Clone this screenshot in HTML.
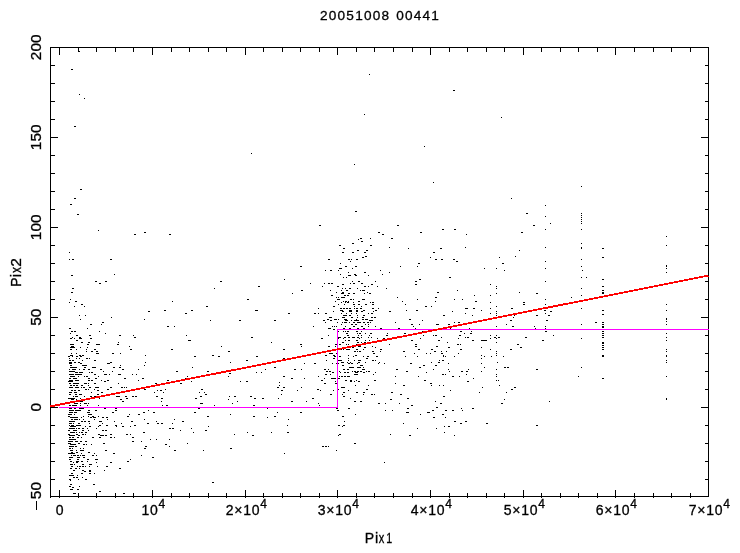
<!DOCTYPE html>
<html><head><meta charset="utf-8"><title>plot</title>
<style>
html,body{margin:0;padding:0;background:#fff;}
svg{display:block}
.tv{font-size:14.4px !important;letter-spacing:0px !important}
.t{font-family:"Liberation Sans",sans-serif;font-size:14px;letter-spacing:0.75px;fill:#000;stroke:#000;stroke-width:0.3px}
</style></head><body>
<svg width="740" height="553" viewBox="0 0 740 553" style="will-change:transform">
<rect width="740" height="553" fill="#fff"/>
<g shape-rendering="crispEdges">
<rect x="50" y="47" width="659" height="1" fill="#000"/>
<rect x="50" y="496" width="659" height="1" fill="#000"/>
<rect x="50" y="47" width="1" height="451" fill="#000"/>
<rect x="708" y="47" width="1" height="450" fill="#000"/>
<rect x="59" y="47" width="1" height="8" fill="#000"/>
<rect x="59" y="490" width="1" height="8" fill="#000"/>
<rect x="78" y="47" width="1" height="5" fill="#000"/>
<rect x="78" y="493" width="1" height="5" fill="#000"/>
<rect x="96" y="47" width="1" height="5" fill="#000"/>
<rect x="96" y="493" width="1" height="5" fill="#000"/>
<rect x="115" y="47" width="1" height="5" fill="#000"/>
<rect x="115" y="493" width="1" height="5" fill="#000"/>
<rect x="133" y="47" width="1" height="5" fill="#000"/>
<rect x="133" y="493" width="1" height="5" fill="#000"/>
<rect x="152" y="47" width="1" height="8" fill="#000"/>
<rect x="152" y="490" width="1" height="8" fill="#000"/>
<rect x="171" y="47" width="1" height="5" fill="#000"/>
<rect x="171" y="493" width="1" height="5" fill="#000"/>
<rect x="189" y="47" width="1" height="5" fill="#000"/>
<rect x="189" y="493" width="1" height="5" fill="#000"/>
<rect x="208" y="47" width="1" height="5" fill="#000"/>
<rect x="208" y="493" width="1" height="5" fill="#000"/>
<rect x="226" y="47" width="1" height="5" fill="#000"/>
<rect x="226" y="493" width="1" height="5" fill="#000"/>
<rect x="245" y="47" width="1" height="8" fill="#000"/>
<rect x="245" y="490" width="1" height="8" fill="#000"/>
<rect x="263" y="47" width="1" height="5" fill="#000"/>
<rect x="263" y="493" width="1" height="5" fill="#000"/>
<rect x="282" y="47" width="1" height="5" fill="#000"/>
<rect x="282" y="493" width="1" height="5" fill="#000"/>
<rect x="300" y="47" width="1" height="5" fill="#000"/>
<rect x="300" y="493" width="1" height="5" fill="#000"/>
<rect x="319" y="47" width="1" height="5" fill="#000"/>
<rect x="319" y="493" width="1" height="5" fill="#000"/>
<rect x="337" y="47" width="1" height="8" fill="#000"/>
<rect x="337" y="490" width="1" height="8" fill="#000"/>
<rect x="356" y="47" width="1" height="5" fill="#000"/>
<rect x="356" y="493" width="1" height="5" fill="#000"/>
<rect x="374" y="47" width="1" height="5" fill="#000"/>
<rect x="374" y="493" width="1" height="5" fill="#000"/>
<rect x="393" y="47" width="1" height="5" fill="#000"/>
<rect x="393" y="493" width="1" height="5" fill="#000"/>
<rect x="412" y="47" width="1" height="5" fill="#000"/>
<rect x="412" y="493" width="1" height="5" fill="#000"/>
<rect x="430" y="47" width="1" height="8" fill="#000"/>
<rect x="430" y="490" width="1" height="8" fill="#000"/>
<rect x="449" y="47" width="1" height="5" fill="#000"/>
<rect x="449" y="493" width="1" height="5" fill="#000"/>
<rect x="467" y="47" width="1" height="5" fill="#000"/>
<rect x="467" y="493" width="1" height="5" fill="#000"/>
<rect x="486" y="47" width="1" height="5" fill="#000"/>
<rect x="486" y="493" width="1" height="5" fill="#000"/>
<rect x="504" y="47" width="1" height="5" fill="#000"/>
<rect x="504" y="493" width="1" height="5" fill="#000"/>
<rect x="523" y="47" width="1" height="8" fill="#000"/>
<rect x="523" y="490" width="1" height="8" fill="#000"/>
<rect x="541" y="47" width="1" height="5" fill="#000"/>
<rect x="541" y="493" width="1" height="5" fill="#000"/>
<rect x="560" y="47" width="1" height="5" fill="#000"/>
<rect x="560" y="493" width="1" height="5" fill="#000"/>
<rect x="578" y="47" width="1" height="5" fill="#000"/>
<rect x="578" y="493" width="1" height="5" fill="#000"/>
<rect x="597" y="47" width="1" height="5" fill="#000"/>
<rect x="597" y="493" width="1" height="5" fill="#000"/>
<rect x="615" y="47" width="1" height="8" fill="#000"/>
<rect x="615" y="490" width="1" height="8" fill="#000"/>
<rect x="634" y="47" width="1" height="5" fill="#000"/>
<rect x="634" y="493" width="1" height="5" fill="#000"/>
<rect x="653" y="47" width="1" height="5" fill="#000"/>
<rect x="653" y="493" width="1" height="5" fill="#000"/>
<rect x="671" y="47" width="1" height="5" fill="#000"/>
<rect x="671" y="493" width="1" height="5" fill="#000"/>
<rect x="690" y="47" width="1" height="5" fill="#000"/>
<rect x="690" y="493" width="1" height="5" fill="#000"/>
<rect x="50" y="479" width="5" height="1" fill="#000"/>
<rect x="705" y="479" width="4" height="1" fill="#000"/>
<rect x="50" y="461" width="5" height="1" fill="#000"/>
<rect x="705" y="461" width="4" height="1" fill="#000"/>
<rect x="50" y="443" width="5" height="1" fill="#000"/>
<rect x="705" y="443" width="4" height="1" fill="#000"/>
<rect x="50" y="425" width="5" height="1" fill="#000"/>
<rect x="705" y="425" width="4" height="1" fill="#000"/>
<rect x="50" y="407" width="8" height="1" fill="#000"/>
<rect x="701" y="407" width="8" height="1" fill="#000"/>
<rect x="50" y="389" width="5" height="1" fill="#000"/>
<rect x="705" y="389" width="4" height="1" fill="#000"/>
<rect x="50" y="371" width="5" height="1" fill="#000"/>
<rect x="705" y="371" width="4" height="1" fill="#000"/>
<rect x="50" y="353" width="5" height="1" fill="#000"/>
<rect x="705" y="353" width="4" height="1" fill="#000"/>
<rect x="50" y="335" width="5" height="1" fill="#000"/>
<rect x="705" y="335" width="4" height="1" fill="#000"/>
<rect x="50" y="317" width="8" height="1" fill="#000"/>
<rect x="701" y="317" width="8" height="1" fill="#000"/>
<rect x="50" y="299" width="5" height="1" fill="#000"/>
<rect x="705" y="299" width="4" height="1" fill="#000"/>
<rect x="50" y="281" width="5" height="1" fill="#000"/>
<rect x="705" y="281" width="4" height="1" fill="#000"/>
<rect x="50" y="263" width="5" height="1" fill="#000"/>
<rect x="705" y="263" width="4" height="1" fill="#000"/>
<rect x="50" y="245" width="5" height="1" fill="#000"/>
<rect x="705" y="245" width="4" height="1" fill="#000"/>
<rect x="50" y="227" width="8" height="1" fill="#000"/>
<rect x="701" y="227" width="8" height="1" fill="#000"/>
<rect x="50" y="209" width="5" height="1" fill="#000"/>
<rect x="705" y="209" width="4" height="1" fill="#000"/>
<rect x="50" y="191" width="5" height="1" fill="#000"/>
<rect x="705" y="191" width="4" height="1" fill="#000"/>
<rect x="50" y="173" width="5" height="1" fill="#000"/>
<rect x="705" y="173" width="4" height="1" fill="#000"/>
<rect x="50" y="155" width="5" height="1" fill="#000"/>
<rect x="705" y="155" width="4" height="1" fill="#000"/>
<rect x="50" y="137" width="8" height="1" fill="#000"/>
<rect x="701" y="137" width="8" height="1" fill="#000"/>
<rect x="50" y="119" width="5" height="1" fill="#000"/>
<rect x="705" y="119" width="4" height="1" fill="#000"/>
<rect x="50" y="101" width="5" height="1" fill="#000"/>
<rect x="705" y="101" width="4" height="1" fill="#000"/>
<rect x="50" y="83" width="5" height="1" fill="#000"/>
<rect x="705" y="83" width="4" height="1" fill="#000"/>
<rect x="50" y="65" width="5" height="1" fill="#000"/>
<rect x="705" y="65" width="4" height="1" fill="#000"/>
<rect x="602" y="279" width="2" height="1" fill="#000"/>
<rect x="602" y="286" width="2" height="1" fill="#000"/>
<rect x="602" y="290" width="2" height="1" fill="#000"/>
<rect x="602" y="292" width="2" height="1" fill="#000"/>
<rect x="602" y="293" width="2" height="1" fill="#000"/>
<rect x="602" y="310" width="2" height="1" fill="#000"/>
<rect x="602" y="314" width="2" height="1" fill="#000"/>
<rect x="602" y="322" width="2" height="1" fill="#000"/>
<rect x="602" y="324" width="2" height="1" fill="#000"/>
<rect x="602" y="326" width="2" height="1" fill="#000"/>
<rect x="602" y="327" width="2" height="1" fill="#000"/>
<rect x="602" y="331" width="2" height="1" fill="#000"/>
<rect x="602" y="333" width="2" height="1" fill="#000"/>
<rect x="602" y="335" width="2" height="1" fill="#000"/>
<rect x="602" y="337" width="2" height="1" fill="#000"/>
<rect x="602" y="342" width="2" height="1" fill="#000"/>
<rect x="602" y="343" width="2" height="1" fill="#000"/>
<rect x="602" y="345" width="2" height="1" fill="#000"/>
<rect x="602" y="347" width="2" height="1" fill="#000"/>
<rect x="602" y="349" width="2" height="1" fill="#000"/>
<rect x="602" y="355" width="2" height="1" fill="#000"/>
<rect x="602" y="356" width="2" height="1" fill="#000"/>
<rect x="602" y="378" width="2" height="1" fill="#000"/>
<rect x="666" y="272" width="1" height="1" fill="#000"/>
<rect x="666" y="304" width="1" height="1" fill="#000"/>
<rect x="666" y="310" width="1" height="1" fill="#000"/>
<rect x="666" y="318" width="1" height="1" fill="#000"/>
<rect x="666" y="319" width="1" height="1" fill="#000"/>
<rect x="666" y="321" width="1" height="1" fill="#000"/>
<rect x="666" y="324" width="1" height="1" fill="#000"/>
<rect x="666" y="333" width="1" height="1" fill="#000"/>
<rect x="666" y="337" width="1" height="1" fill="#000"/>
<rect x="666" y="340" width="1" height="1" fill="#000"/>
<rect x="666" y="349" width="1" height="1" fill="#000"/>
<rect x="666" y="351" width="1" height="1" fill="#000"/>
<rect x="666" y="355" width="1" height="1" fill="#000"/>
<rect x="666" y="356" width="1" height="1" fill="#000"/>
<rect x="666" y="360" width="1" height="1" fill="#000"/>
<rect x="666" y="362" width="1" height="1" fill="#000"/>
<rect x="666" y="376" width="1" height="1" fill="#000"/>
<rect x="666" y="398" width="1" height="1" fill="#000"/>
<rect x="666" y="399" width="1" height="1" fill="#000"/>
<rect x="582" y="270" width="1" height="1" fill="#000"/>
<rect x="79" y="51" width="1" height="1" fill="#000"/>
<rect x="102" y="322" width="2" height="1" fill="#000"/>
<rect x="90" y="324" width="2" height="1" fill="#000"/>
<rect x="101" y="324" width="1" height="1" fill="#000"/>
<rect x="69" y="328" width="2" height="1" fill="#000"/>
<rect x="87" y="328" width="1" height="1" fill="#000"/>
<rect x="71" y="331" width="2" height="1" fill="#000"/>
<rect x="74" y="331" width="2" height="1" fill="#000"/>
<rect x="99" y="331" width="1" height="1" fill="#000"/>
<rect x="70" y="333" width="1" height="1" fill="#000"/>
<rect x="105" y="333" width="1" height="1" fill="#000"/>
<rect x="76" y="335" width="2" height="1" fill="#000"/>
<rect x="89" y="335" width="2" height="1" fill="#000"/>
<rect x="119" y="335" width="2" height="1" fill="#000"/>
<rect x="70" y="338" width="2" height="1" fill="#000"/>
<rect x="72" y="337" width="1" height="1" fill="#000"/>
<rect x="74" y="338" width="1" height="1" fill="#000"/>
<rect x="79" y="337" width="2" height="1" fill="#000"/>
<rect x="79" y="338" width="3" height="1" fill="#000"/>
<rect x="90" y="338" width="2" height="1" fill="#000"/>
<rect x="76" y="340" width="2" height="1" fill="#000"/>
<rect x="81" y="342" width="2" height="1" fill="#000"/>
<rect x="88" y="342" width="2" height="1" fill="#000"/>
<rect x="118" y="342" width="1" height="1" fill="#000"/>
<rect x="70" y="344" width="4" height="1" fill="#000"/>
<rect x="87" y="344" width="2" height="1" fill="#000"/>
<rect x="96" y="344" width="4" height="1" fill="#000"/>
<rect x="117" y="344" width="2" height="1" fill="#000"/>
<rect x="71" y="346" width="3" height="1" fill="#000"/>
<rect x="70" y="347" width="5" height="1" fill="#000"/>
<rect x="80" y="347" width="1" height="1" fill="#000"/>
<rect x="87" y="347" width="1" height="1" fill="#000"/>
<rect x="129" y="346" width="1" height="1" fill="#000"/>
<rect x="70" y="349" width="2" height="1" fill="#000"/>
<rect x="76" y="349" width="1" height="1" fill="#000"/>
<rect x="86" y="349" width="1" height="1" fill="#000"/>
<rect x="94" y="349" width="2" height="1" fill="#000"/>
<rect x="86" y="351" width="1" height="1" fill="#000"/>
<rect x="91" y="351" width="2" height="1" fill="#000"/>
<rect x="96" y="351" width="2" height="1" fill="#000"/>
<rect x="71" y="353" width="1" height="1" fill="#000"/>
<rect x="76" y="353" width="1" height="1" fill="#000"/>
<rect x="96" y="353" width="3" height="1" fill="#000"/>
<rect x="112" y="353" width="2" height="1" fill="#000"/>
<rect x="120" y="353" width="1" height="1" fill="#000"/>
<rect x="68" y="356" width="2" height="1" fill="#000"/>
<rect x="70" y="355" width="3" height="1" fill="#000"/>
<rect x="72" y="356" width="1" height="1" fill="#000"/>
<rect x="76" y="356" width="2" height="1" fill="#000"/>
<rect x="79" y="355" width="2" height="1" fill="#000"/>
<rect x="80" y="356" width="2" height="1" fill="#000"/>
<rect x="82" y="355" width="2" height="1" fill="#000"/>
<rect x="69" y="358" width="1" height="1" fill="#000"/>
<rect x="76" y="358" width="1" height="1" fill="#000"/>
<rect x="79" y="358" width="1" height="1" fill="#000"/>
<rect x="86" y="358" width="2" height="1" fill="#000"/>
<rect x="89" y="358" width="1" height="1" fill="#000"/>
<rect x="69" y="360" width="2" height="1" fill="#000"/>
<rect x="72" y="360" width="2" height="1" fill="#000"/>
<rect x="82" y="360" width="1" height="1" fill="#000"/>
<rect x="94" y="360" width="2" height="1" fill="#000"/>
<rect x="69" y="362" width="3" height="1" fill="#000"/>
<rect x="69" y="363" width="3" height="1" fill="#000"/>
<rect x="74" y="362" width="2" height="1" fill="#000"/>
<rect x="78" y="362" width="2" height="1" fill="#000"/>
<rect x="80" y="363" width="2" height="1" fill="#000"/>
<rect x="107" y="363" width="3" height="1" fill="#000"/>
<rect x="110" y="362" width="2" height="1" fill="#000"/>
<rect x="70" y="365" width="2" height="1" fill="#000"/>
<rect x="82" y="365" width="5" height="1" fill="#000"/>
<rect x="120" y="365" width="1" height="1" fill="#000"/>
<rect x="70" y="367" width="7" height="1" fill="#000"/>
<rect x="84" y="367" width="2" height="1" fill="#000"/>
<rect x="92" y="367" width="4" height="1" fill="#000"/>
<rect x="113" y="367" width="2" height="1" fill="#000"/>
<rect x="119" y="367" width="2" height="1" fill="#000"/>
<rect x="69" y="369" width="1" height="1" fill="#000"/>
<rect x="72" y="369" width="4" height="1" fill="#000"/>
<rect x="79" y="369" width="1" height="1" fill="#000"/>
<rect x="83" y="369" width="2" height="1" fill="#000"/>
<rect x="88" y="369" width="2" height="1" fill="#000"/>
<rect x="100" y="369" width="2" height="1" fill="#000"/>
<rect x="122" y="369" width="2" height="1" fill="#000"/>
<rect x="69" y="371" width="4" height="1" fill="#000"/>
<rect x="72" y="371" width="3" height="1" fill="#000"/>
<rect x="75" y="372" width="3" height="1" fill="#000"/>
<rect x="79" y="372" width="4" height="1" fill="#000"/>
<rect x="89" y="372" width="1" height="1" fill="#000"/>
<rect x="91" y="372" width="2" height="1" fill="#000"/>
<rect x="103" y="371" width="1" height="1" fill="#000"/>
<rect x="112" y="371" width="1" height="1" fill="#000"/>
<rect x="69" y="374" width="5" height="1" fill="#000"/>
<rect x="75" y="374" width="7" height="1" fill="#000"/>
<rect x="94" y="374" width="2" height="1" fill="#000"/>
<rect x="104" y="374" width="3" height="1" fill="#000"/>
<rect x="109" y="374" width="1" height="1" fill="#000"/>
<rect x="118" y="374" width="3" height="1" fill="#000"/>
<rect x="70" y="376" width="5" height="1" fill="#000"/>
<rect x="78" y="376" width="1" height="1" fill="#000"/>
<rect x="84" y="376" width="1" height="1" fill="#000"/>
<rect x="86" y="376" width="2" height="1" fill="#000"/>
<rect x="98" y="376" width="1" height="1" fill="#000"/>
<rect x="69" y="378" width="2" height="1" fill="#000"/>
<rect x="73" y="378" width="4" height="1" fill="#000"/>
<rect x="88" y="378" width="2" height="1" fill="#000"/>
<rect x="95" y="378" width="2" height="1" fill="#000"/>
<rect x="124" y="378" width="2" height="1" fill="#000"/>
<rect x="69" y="380" width="4" height="1" fill="#000"/>
<rect x="68" y="381" width="5" height="1" fill="#000"/>
<rect x="75" y="380" width="2" height="1" fill="#000"/>
<rect x="77" y="380" width="2" height="1" fill="#000"/>
<rect x="88" y="380" width="2" height="1" fill="#000"/>
<rect x="91" y="380" width="2" height="1" fill="#000"/>
<rect x="101" y="380" width="1" height="1" fill="#000"/>
<rect x="104" y="381" width="2" height="1" fill="#000"/>
<rect x="107" y="380" width="2" height="1" fill="#000"/>
<rect x="69" y="383" width="2" height="1" fill="#000"/>
<rect x="73" y="383" width="6" height="1" fill="#000"/>
<rect x="84" y="383" width="3" height="1" fill="#000"/>
<rect x="88" y="383" width="1" height="1" fill="#000"/>
<rect x="94" y="383" width="2" height="1" fill="#000"/>
<rect x="118" y="383" width="1" height="1" fill="#000"/>
<rect x="70" y="385" width="2" height="1" fill="#000"/>
<rect x="73" y="385" width="2" height="1" fill="#000"/>
<rect x="76" y="385" width="2" height="1" fill="#000"/>
<rect x="81" y="385" width="2" height="1" fill="#000"/>
<rect x="88" y="385" width="1" height="1" fill="#000"/>
<rect x="69" y="387" width="4" height="1" fill="#000"/>
<rect x="75" y="387" width="4" height="1" fill="#000"/>
<rect x="81" y="387" width="1" height="1" fill="#000"/>
<rect x="83" y="387" width="2" height="1" fill="#000"/>
<rect x="89" y="387" width="2" height="1" fill="#000"/>
<rect x="95" y="387" width="4" height="1" fill="#000"/>
<rect x="110" y="387" width="2" height="1" fill="#000"/>
<rect x="121" y="387" width="2" height="1" fill="#000"/>
<rect x="124" y="387" width="1" height="1" fill="#000"/>
<rect x="126" y="387" width="1" height="1" fill="#000"/>
<rect x="71" y="390" width="2" height="1" fill="#000"/>
<rect x="74" y="390" width="2" height="1" fill="#000"/>
<rect x="78" y="390" width="2" height="1" fill="#000"/>
<rect x="85" y="389" width="2" height="1" fill="#000"/>
<rect x="88" y="389" width="1" height="1" fill="#000"/>
<rect x="94" y="389" width="1" height="1" fill="#000"/>
<rect x="97" y="390" width="2" height="1" fill="#000"/>
<rect x="107" y="389" width="2" height="1" fill="#000"/>
<rect x="69" y="392" width="3" height="1" fill="#000"/>
<rect x="74" y="392" width="3" height="1" fill="#000"/>
<rect x="91" y="392" width="1" height="1" fill="#000"/>
<rect x="101" y="392" width="2" height="1" fill="#000"/>
<rect x="69" y="394" width="2" height="1" fill="#000"/>
<rect x="75" y="394" width="2" height="1" fill="#000"/>
<rect x="79" y="394" width="3" height="1" fill="#000"/>
<rect x="97" y="394" width="2" height="1" fill="#000"/>
<rect x="73" y="396" width="1" height="1" fill="#000"/>
<rect x="75" y="396" width="3" height="1" fill="#000"/>
<rect x="84" y="396" width="1" height="1" fill="#000"/>
<rect x="90" y="396" width="2" height="1" fill="#000"/>
<rect x="94" y="396" width="2" height="1" fill="#000"/>
<rect x="116" y="396" width="4" height="1" fill="#000"/>
<rect x="125" y="396" width="2" height="1" fill="#000"/>
<rect x="68" y="398" width="7" height="1" fill="#000"/>
<rect x="71" y="399" width="3" height="1" fill="#000"/>
<rect x="76" y="399" width="1" height="1" fill="#000"/>
<rect x="80" y="398" width="1" height="1" fill="#000"/>
<rect x="99" y="398" width="1" height="1" fill="#000"/>
<rect x="126" y="398" width="2" height="1" fill="#000"/>
<rect x="120" y="399" width="2" height="1" fill="#000"/>
<rect x="70" y="401" width="1" height="1" fill="#000"/>
<rect x="80" y="401" width="3" height="1" fill="#000"/>
<rect x="122" y="401" width="2" height="1" fill="#000"/>
<rect x="74" y="403" width="4" height="1" fill="#000"/>
<rect x="80" y="403" width="1" height="1" fill="#000"/>
<rect x="84" y="403" width="3" height="1" fill="#000"/>
<rect x="88" y="403" width="1" height="1" fill="#000"/>
<rect x="69" y="405" width="2" height="1" fill="#000"/>
<rect x="72" y="405" width="5" height="1" fill="#000"/>
<rect x="80" y="405" width="1" height="1" fill="#000"/>
<rect x="87" y="405" width="1" height="1" fill="#000"/>
<rect x="98" y="405" width="1" height="1" fill="#000"/>
<rect x="69" y="408" width="3" height="1" fill="#000"/>
<rect x="74" y="408" width="2" height="1" fill="#000"/>
<rect x="79" y="408" width="5" height="1" fill="#000"/>
<rect x="104" y="408" width="2" height="1" fill="#000"/>
<rect x="115" y="408" width="2" height="1" fill="#000"/>
<rect x="69" y="410" width="5" height="1" fill="#000"/>
<rect x="75" y="410" width="6" height="1" fill="#000"/>
<rect x="88" y="410" width="2" height="1" fill="#000"/>
<rect x="95" y="410" width="2" height="1" fill="#000"/>
<rect x="115" y="410" width="2" height="1" fill="#000"/>
<rect x="69" y="412" width="4" height="1" fill="#000"/>
<rect x="74" y="412" width="3" height="1" fill="#000"/>
<rect x="87" y="412" width="3" height="1" fill="#000"/>
<rect x="112" y="412" width="2" height="1" fill="#000"/>
<rect x="68" y="414" width="4" height="1" fill="#000"/>
<rect x="74" y="414" width="1" height="1" fill="#000"/>
<rect x="88" y="414" width="4" height="1" fill="#000"/>
<rect x="129" y="414" width="1" height="1" fill="#000"/>
<rect x="68" y="416" width="2" height="1" fill="#000"/>
<rect x="70" y="417" width="4" height="1" fill="#000"/>
<rect x="74" y="417" width="4" height="1" fill="#000"/>
<rect x="83" y="416" width="1" height="1" fill="#000"/>
<rect x="88" y="416" width="1" height="1" fill="#000"/>
<rect x="90" y="417" width="2" height="1" fill="#000"/>
<rect x="92" y="416" width="2" height="1" fill="#000"/>
<rect x="93" y="417" width="3" height="1" fill="#000"/>
<rect x="98" y="416" width="1" height="1" fill="#000"/>
<rect x="102" y="417" width="2" height="1" fill="#000"/>
<rect x="106" y="417" width="2" height="1" fill="#000"/>
<rect x="127" y="416" width="2" height="1" fill="#000"/>
<rect x="81" y="417" width="1" height="1" fill="#000"/>
<rect x="71" y="419" width="2" height="1" fill="#000"/>
<rect x="74" y="419" width="2" height="1" fill="#000"/>
<rect x="76" y="419" width="2" height="1" fill="#000"/>
<rect x="79" y="419" width="1" height="1" fill="#000"/>
<rect x="83" y="419" width="1" height="1" fill="#000"/>
<rect x="94" y="419" width="1" height="1" fill="#000"/>
<rect x="107" y="419" width="1" height="1" fill="#000"/>
<rect x="69" y="421" width="6" height="1" fill="#000"/>
<rect x="81" y="421" width="2" height="1" fill="#000"/>
<rect x="84" y="421" width="2" height="1" fill="#000"/>
<rect x="88" y="421" width="2" height="1" fill="#000"/>
<rect x="99" y="421" width="3" height="1" fill="#000"/>
<rect x="114" y="421" width="1" height="1" fill="#000"/>
<rect x="69" y="423" width="3" height="1" fill="#000"/>
<rect x="73" y="423" width="1" height="1" fill="#000"/>
<rect x="78" y="423" width="2" height="1" fill="#000"/>
<rect x="89" y="423" width="1" height="1" fill="#000"/>
<rect x="102" y="423" width="1" height="1" fill="#000"/>
<rect x="121" y="423" width="1" height="1" fill="#000"/>
<rect x="69" y="425" width="1" height="1" fill="#000"/>
<rect x="71" y="425" width="3" height="1" fill="#000"/>
<rect x="76" y="425" width="5" height="1" fill="#000"/>
<rect x="99" y="425" width="2" height="1" fill="#000"/>
<rect x="106" y="425" width="2" height="1" fill="#000"/>
<rect x="115" y="425" width="2" height="1" fill="#000"/>
<rect x="70" y="426" width="6" height="1" fill="#000"/>
<rect x="85" y="426" width="1" height="1" fill="#000"/>
<rect x="89" y="426" width="2" height="1" fill="#000"/>
<rect x="98" y="426" width="1" height="1" fill="#000"/>
<rect x="116" y="426" width="1" height="1" fill="#000"/>
<rect x="122" y="426" width="2" height="1" fill="#000"/>
<rect x="69" y="428" width="1" height="1" fill="#000"/>
<rect x="70" y="428" width="5" height="1" fill="#000"/>
<rect x="76" y="428" width="1" height="1" fill="#000"/>
<rect x="78" y="428" width="2" height="1" fill="#000"/>
<rect x="82" y="428" width="2" height="1" fill="#000"/>
<rect x="87" y="428" width="1" height="1" fill="#000"/>
<rect x="96" y="428" width="1" height="1" fill="#000"/>
<rect x="68" y="430" width="2" height="1" fill="#000"/>
<rect x="73" y="430" width="4" height="1" fill="#000"/>
<rect x="82" y="430" width="2" height="1" fill="#000"/>
<rect x="88" y="430" width="1" height="1" fill="#000"/>
<rect x="102" y="430" width="2" height="1" fill="#000"/>
<rect x="105" y="430" width="2" height="1" fill="#000"/>
<rect x="70" y="432" width="5" height="1" fill="#000"/>
<rect x="76" y="432" width="1" height="1" fill="#000"/>
<rect x="79" y="432" width="1" height="1" fill="#000"/>
<rect x="81" y="432" width="2" height="1" fill="#000"/>
<rect x="85" y="432" width="2" height="1" fill="#000"/>
<rect x="68" y="434" width="2" height="1" fill="#000"/>
<rect x="69" y="435" width="6" height="1" fill="#000"/>
<rect x="76" y="434" width="2" height="1" fill="#000"/>
<rect x="78" y="435" width="2" height="1" fill="#000"/>
<rect x="82" y="434" width="2" height="1" fill="#000"/>
<rect x="85" y="434" width="1" height="1" fill="#000"/>
<rect x="98" y="434" width="2" height="1" fill="#000"/>
<rect x="100" y="435" width="4" height="1" fill="#000"/>
<rect x="105" y="435" width="2" height="1" fill="#000"/>
<rect x="110" y="434" width="2" height="1" fill="#000"/>
<rect x="126" y="434" width="2" height="1" fill="#000"/>
<rect x="69" y="437" width="2" height="1" fill="#000"/>
<rect x="72" y="437" width="2" height="1" fill="#000"/>
<rect x="77" y="437" width="2" height="1" fill="#000"/>
<rect x="81" y="437" width="1" height="1" fill="#000"/>
<rect x="92" y="437" width="2" height="1" fill="#000"/>
<rect x="99" y="437" width="2" height="1" fill="#000"/>
<rect x="110" y="437" width="2" height="1" fill="#000"/>
<rect x="114" y="437" width="1" height="1" fill="#000"/>
<rect x="69" y="439" width="7" height="1" fill="#000"/>
<rect x="68" y="441" width="5" height="1" fill="#000"/>
<rect x="75" y="441" width="3" height="1" fill="#000"/>
<rect x="80" y="441" width="2" height="1" fill="#000"/>
<rect x="85" y="441" width="2" height="1" fill="#000"/>
<rect x="68" y="443" width="3" height="1" fill="#000"/>
<rect x="70" y="444" width="6" height="1" fill="#000"/>
<rect x="78" y="443" width="2" height="1" fill="#000"/>
<rect x="83" y="444" width="2" height="1" fill="#000"/>
<rect x="86" y="444" width="1" height="1" fill="#000"/>
<rect x="91" y="444" width="1" height="1" fill="#000"/>
<rect x="103" y="443" width="2" height="1" fill="#000"/>
<rect x="69" y="446" width="5" height="1" fill="#000"/>
<rect x="75" y="446" width="2" height="1" fill="#000"/>
<rect x="69" y="448" width="2" height="1" fill="#000"/>
<rect x="72" y="448" width="1" height="1" fill="#000"/>
<rect x="80" y="448" width="1" height="1" fill="#000"/>
<rect x="83" y="448" width="1" height="1" fill="#000"/>
<rect x="70" y="450" width="3" height="1" fill="#000"/>
<rect x="76" y="450" width="1" height="1" fill="#000"/>
<rect x="80" y="450" width="4" height="1" fill="#000"/>
<rect x="105" y="450" width="2" height="1" fill="#000"/>
<rect x="68" y="453" width="7" height="1" fill="#000"/>
<rect x="71" y="452" width="2" height="1" fill="#000"/>
<rect x="76" y="452" width="2" height="1" fill="#000"/>
<rect x="81" y="453" width="1" height="1" fill="#000"/>
<rect x="88" y="452" width="2" height="1" fill="#000"/>
<rect x="94" y="453" width="1" height="1" fill="#000"/>
<rect x="113" y="453" width="2" height="1" fill="#000"/>
<rect x="71" y="455" width="1" height="1" fill="#000"/>
<rect x="73" y="455" width="3" height="1" fill="#000"/>
<rect x="77" y="455" width="2" height="1" fill="#000"/>
<rect x="80" y="455" width="1" height="1" fill="#000"/>
<rect x="82" y="455" width="3" height="1" fill="#000"/>
<rect x="92" y="455" width="2" height="1" fill="#000"/>
<rect x="96" y="455" width="1" height="1" fill="#000"/>
<rect x="69" y="457" width="4" height="1" fill="#000"/>
<rect x="77" y="457" width="3" height="1" fill="#000"/>
<rect x="83" y="457" width="2" height="1" fill="#000"/>
<rect x="69" y="459" width="2" height="1" fill="#000"/>
<rect x="77" y="459" width="2" height="1" fill="#000"/>
<rect x="87" y="459" width="2" height="1" fill="#000"/>
<rect x="95" y="459" width="3" height="1" fill="#000"/>
<rect x="70" y="461" width="2" height="1" fill="#000"/>
<rect x="73" y="462" width="1" height="1" fill="#000"/>
<rect x="76" y="461" width="3" height="1" fill="#000"/>
<rect x="76" y="462" width="2" height="1" fill="#000"/>
<rect x="81" y="461" width="2" height="1" fill="#000"/>
<rect x="87" y="461" width="1" height="1" fill="#000"/>
<rect x="96" y="462" width="1" height="1" fill="#000"/>
<rect x="110" y="462" width="2" height="1" fill="#000"/>
<rect x="127" y="461" width="2" height="1" fill="#000"/>
<rect x="70" y="464" width="3" height="1" fill="#000"/>
<rect x="74" y="464" width="1" height="1" fill="#000"/>
<rect x="82" y="464" width="2" height="1" fill="#000"/>
<rect x="89" y="464" width="3" height="1" fill="#000"/>
<rect x="71" y="466" width="2" height="1" fill="#000"/>
<rect x="77" y="466" width="1" height="1" fill="#000"/>
<rect x="79" y="466" width="2" height="1" fill="#000"/>
<rect x="82" y="466" width="2" height="1" fill="#000"/>
<rect x="85" y="466" width="1" height="1" fill="#000"/>
<rect x="89" y="466" width="1" height="1" fill="#000"/>
<rect x="97" y="466" width="1" height="1" fill="#000"/>
<rect x="106" y="466" width="2" height="1" fill="#000"/>
<rect x="70" y="468" width="2" height="1" fill="#000"/>
<rect x="75" y="468" width="2" height="1" fill="#000"/>
<rect x="79" y="468" width="1" height="1" fill="#000"/>
<rect x="119" y="468" width="2" height="1" fill="#000"/>
<rect x="73" y="470" width="2" height="1" fill="#000"/>
<rect x="82" y="470" width="2" height="1" fill="#000"/>
<rect x="84" y="471" width="2" height="1" fill="#000"/>
<rect x="89" y="470" width="2" height="1" fill="#000"/>
<rect x="89" y="471" width="2" height="1" fill="#000"/>
<rect x="104" y="470" width="1" height="1" fill="#000"/>
<rect x="71" y="473" width="2" height="1" fill="#000"/>
<rect x="81" y="473" width="2" height="1" fill="#000"/>
<rect x="89" y="473" width="2" height="1" fill="#000"/>
<rect x="94" y="473" width="1" height="1" fill="#000"/>
<rect x="69" y="475" width="5" height="1" fill="#000"/>
<rect x="77" y="475" width="1" height="1" fill="#000"/>
<rect x="73" y="477" width="2" height="1" fill="#000"/>
<rect x="76" y="477" width="2" height="1" fill="#000"/>
<rect x="82" y="477" width="1" height="1" fill="#000"/>
<rect x="69" y="479" width="2" height="1" fill="#000"/>
<rect x="70" y="480" width="1" height="1" fill="#000"/>
<rect x="78" y="479" width="1" height="1" fill="#000"/>
<rect x="85" y="479" width="2" height="1" fill="#000"/>
<rect x="70" y="484" width="2" height="1" fill="#000"/>
<rect x="93" y="484" width="2" height="1" fill="#000"/>
<rect x="69" y="486" width="2" height="1" fill="#000"/>
<rect x="79" y="486" width="1" height="1" fill="#000"/>
<rect x="72" y="487" width="2" height="1" fill="#000"/>
<rect x="70" y="489" width="3" height="1" fill="#000"/>
<rect x="77" y="489" width="2" height="1" fill="#000"/>
<rect x="99" y="491" width="2" height="1" fill="#000"/>
<rect x="73" y="493" width="3" height="1" fill="#000"/>
<rect x="123" y="493" width="2" height="1" fill="#000"/>
<rect x="340" y="274" width="1" height="1" fill="#000"/>
<rect x="348" y="275" width="3" height="1" fill="#000"/>
<rect x="354" y="274" width="2" height="1" fill="#000"/>
<rect x="355" y="275" width="2" height="1" fill="#000"/>
<rect x="368" y="275" width="1" height="1" fill="#000"/>
<rect x="343" y="277" width="1" height="1" fill="#000"/>
<rect x="346" y="277" width="1" height="1" fill="#000"/>
<rect x="352" y="281" width="1" height="1" fill="#000"/>
<rect x="358" y="281" width="2" height="1" fill="#000"/>
<rect x="375" y="281" width="1" height="1" fill="#000"/>
<rect x="310" y="283" width="1" height="1" fill="#000"/>
<rect x="324" y="283" width="1" height="1" fill="#000"/>
<rect x="328" y="283" width="2" height="1" fill="#000"/>
<rect x="331" y="283" width="2" height="1" fill="#000"/>
<rect x="350" y="283" width="1" height="1" fill="#000"/>
<rect x="353" y="283" width="2" height="1" fill="#000"/>
<rect x="361" y="283" width="2" height="1" fill="#000"/>
<rect x="342" y="284" width="2" height="1" fill="#000"/>
<rect x="371" y="284" width="2" height="1" fill="#000"/>
<rect x="322" y="286" width="1" height="1" fill="#000"/>
<rect x="337" y="286" width="2" height="1" fill="#000"/>
<rect x="364" y="286" width="2" height="1" fill="#000"/>
<rect x="368" y="286" width="1" height="1" fill="#000"/>
<rect x="377" y="286" width="1" height="1" fill="#000"/>
<rect x="342" y="288" width="1" height="1" fill="#000"/>
<rect x="345" y="288" width="1" height="1" fill="#000"/>
<rect x="349" y="288" width="2" height="1" fill="#000"/>
<rect x="357" y="288" width="1" height="1" fill="#000"/>
<rect x="330" y="290" width="1" height="1" fill="#000"/>
<rect x="341" y="290" width="1" height="1" fill="#000"/>
<rect x="346" y="290" width="2" height="1" fill="#000"/>
<rect x="360" y="290" width="1" height="1" fill="#000"/>
<rect x="362" y="290" width="3" height="1" fill="#000"/>
<rect x="336" y="292" width="1" height="1" fill="#000"/>
<rect x="342" y="292" width="2" height="1" fill="#000"/>
<rect x="341" y="293" width="3" height="1" fill="#000"/>
<rect x="348" y="293" width="2" height="1" fill="#000"/>
<rect x="353" y="293" width="2" height="1" fill="#000"/>
<rect x="364" y="293" width="1" height="1" fill="#000"/>
<rect x="367" y="292" width="1" height="1" fill="#000"/>
<rect x="369" y="293" width="2" height="1" fill="#000"/>
<rect x="331" y="295" width="2" height="1" fill="#000"/>
<rect x="344" y="295" width="2" height="1" fill="#000"/>
<rect x="347" y="295" width="2" height="1" fill="#000"/>
<rect x="336" y="297" width="1" height="1" fill="#000"/>
<rect x="338" y="297" width="1" height="1" fill="#000"/>
<rect x="341" y="297" width="4" height="1" fill="#000"/>
<rect x="337" y="299" width="3" height="1" fill="#000"/>
<rect x="350" y="299" width="2" height="1" fill="#000"/>
<rect x="353" y="299" width="1" height="1" fill="#000"/>
<rect x="362" y="299" width="3" height="1" fill="#000"/>
<rect x="335" y="301" width="1" height="1" fill="#000"/>
<rect x="343" y="301" width="1" height="1" fill="#000"/>
<rect x="345" y="301" width="2" height="1" fill="#000"/>
<rect x="345" y="302" width="1" height="1" fill="#000"/>
<rect x="348" y="301" width="1" height="1" fill="#000"/>
<rect x="347" y="302" width="2" height="1" fill="#000"/>
<rect x="353" y="302" width="1" height="1" fill="#000"/>
<rect x="358" y="301" width="2" height="1" fill="#000"/>
<rect x="341" y="302" width="1" height="1" fill="#000"/>
<rect x="370" y="302" width="1" height="1" fill="#000"/>
<rect x="372" y="302" width="2" height="1" fill="#000"/>
<rect x="338" y="304" width="1" height="1" fill="#000"/>
<rect x="344" y="304" width="1" height="1" fill="#000"/>
<rect x="353" y="304" width="2" height="1" fill="#000"/>
<rect x="358" y="304" width="2" height="1" fill="#000"/>
<rect x="365" y="304" width="2" height="1" fill="#000"/>
<rect x="372" y="304" width="2" height="1" fill="#000"/>
<rect x="333" y="306" width="2" height="1" fill="#000"/>
<rect x="354" y="306" width="1" height="1" fill="#000"/>
<rect x="361" y="306" width="1" height="1" fill="#000"/>
<rect x="318" y="308" width="1" height="1" fill="#000"/>
<rect x="340" y="308" width="2" height="1" fill="#000"/>
<rect x="343" y="308" width="2" height="1" fill="#000"/>
<rect x="346" y="308" width="2" height="1" fill="#000"/>
<rect x="349" y="308" width="2" height="1" fill="#000"/>
<rect x="354" y="308" width="1" height="1" fill="#000"/>
<rect x="356" y="308" width="2" height="1" fill="#000"/>
<rect x="360" y="308" width="2" height="1" fill="#000"/>
<rect x="372" y="308" width="2" height="1" fill="#000"/>
<rect x="378" y="308" width="1" height="1" fill="#000"/>
<rect x="333" y="311" width="1" height="1" fill="#000"/>
<rect x="340" y="310" width="2" height="1" fill="#000"/>
<rect x="342" y="311" width="2" height="1" fill="#000"/>
<rect x="342" y="310" width="1" height="1" fill="#000"/>
<rect x="349" y="310" width="3" height="1" fill="#000"/>
<rect x="349" y="311" width="3" height="1" fill="#000"/>
<rect x="356" y="310" width="2" height="1" fill="#000"/>
<rect x="356" y="311" width="2" height="1" fill="#000"/>
<rect x="361" y="311" width="2" height="1" fill="#000"/>
<rect x="363" y="310" width="2" height="1" fill="#000"/>
<rect x="375" y="310" width="2" height="1" fill="#000"/>
<rect x="373" y="311" width="1" height="1" fill="#000"/>
<rect x="314" y="313" width="2" height="1" fill="#000"/>
<rect x="318" y="313" width="1" height="1" fill="#000"/>
<rect x="325" y="313" width="2" height="1" fill="#000"/>
<rect x="341" y="313" width="1" height="1" fill="#000"/>
<rect x="346" y="313" width="1" height="1" fill="#000"/>
<rect x="351" y="313" width="1" height="1" fill="#000"/>
<rect x="356" y="313" width="1" height="1" fill="#000"/>
<rect x="368" y="313" width="1" height="1" fill="#000"/>
<rect x="371" y="313" width="2" height="1" fill="#000"/>
<rect x="343" y="315" width="4" height="1" fill="#000"/>
<rect x="349" y="315" width="2" height="1" fill="#000"/>
<rect x="357" y="315" width="1" height="1" fill="#000"/>
<rect x="363" y="315" width="2" height="1" fill="#000"/>
<rect x="329" y="317" width="3" height="1" fill="#000"/>
<rect x="342" y="317" width="3" height="1" fill="#000"/>
<rect x="351" y="317" width="2" height="1" fill="#000"/>
<rect x="357" y="317" width="1" height="1" fill="#000"/>
<rect x="362" y="317" width="2" height="1" fill="#000"/>
<rect x="371" y="317" width="2" height="1" fill="#000"/>
<rect x="374" y="317" width="2" height="1" fill="#000"/>
<rect x="323" y="320" width="2" height="1" fill="#000"/>
<rect x="327" y="319" width="2" height="1" fill="#000"/>
<rect x="330" y="320" width="2" height="1" fill="#000"/>
<rect x="334" y="319" width="3" height="1" fill="#000"/>
<rect x="338" y="319" width="1" height="1" fill="#000"/>
<rect x="344" y="319" width="3" height="1" fill="#000"/>
<rect x="345" y="320" width="3" height="1" fill="#000"/>
<rect x="351" y="320" width="1" height="1" fill="#000"/>
<rect x="356" y="319" width="1" height="1" fill="#000"/>
<rect x="354" y="320" width="5" height="1" fill="#000"/>
<rect x="362" y="319" width="2" height="1" fill="#000"/>
<rect x="365" y="319" width="3" height="1" fill="#000"/>
<rect x="369" y="320" width="4" height="1" fill="#000"/>
<rect x="325" y="322" width="1" height="1" fill="#000"/>
<rect x="337" y="322" width="1" height="1" fill="#000"/>
<rect x="342" y="322" width="1" height="1" fill="#000"/>
<rect x="344" y="322" width="3" height="1" fill="#000"/>
<rect x="349" y="322" width="1" height="1" fill="#000"/>
<rect x="353" y="322" width="2" height="1" fill="#000"/>
<rect x="357" y="322" width="4" height="1" fill="#000"/>
<rect x="363" y="322" width="2" height="1" fill="#000"/>
<rect x="367" y="322" width="2" height="1" fill="#000"/>
<rect x="370" y="322" width="1" height="1" fill="#000"/>
<rect x="341" y="324" width="1" height="1" fill="#000"/>
<rect x="351" y="324" width="2" height="1" fill="#000"/>
<rect x="355" y="324" width="2" height="1" fill="#000"/>
<rect x="365" y="324" width="1" height="1" fill="#000"/>
<rect x="368" y="324" width="1" height="1" fill="#000"/>
<rect x="313" y="326" width="1" height="1" fill="#000"/>
<rect x="332" y="326" width="1" height="1" fill="#000"/>
<rect x="334" y="326" width="1" height="1" fill="#000"/>
<rect x="336" y="326" width="1" height="1" fill="#000"/>
<rect x="345" y="326" width="1" height="1" fill="#000"/>
<rect x="353" y="326" width="2" height="1" fill="#000"/>
<rect x="361" y="326" width="2" height="1" fill="#000"/>
<rect x="368" y="326" width="1" height="1" fill="#000"/>
<rect x="375" y="326" width="1" height="1" fill="#000"/>
<rect x="328" y="328" width="3" height="1" fill="#000"/>
<rect x="333" y="329" width="2" height="1" fill="#000"/>
<rect x="343" y="328" width="2" height="1" fill="#000"/>
<rect x="349" y="328" width="2" height="1" fill="#000"/>
<rect x="357" y="328" width="2" height="1" fill="#000"/>
<rect x="363" y="328" width="2" height="1" fill="#000"/>
<rect x="337" y="331" width="2" height="1" fill="#000"/>
<rect x="343" y="331" width="1" height="1" fill="#000"/>
<rect x="345" y="331" width="1" height="1" fill="#000"/>
<rect x="347" y="331" width="2" height="1" fill="#000"/>
<rect x="356" y="331" width="2" height="1" fill="#000"/>
<rect x="361" y="331" width="1" height="1" fill="#000"/>
<rect x="346" y="333" width="2" height="1" fill="#000"/>
<rect x="357" y="333" width="1" height="1" fill="#000"/>
<rect x="359" y="333" width="2" height="1" fill="#000"/>
<rect x="365" y="333" width="1" height="1" fill="#000"/>
<rect x="370" y="333" width="2" height="1" fill="#000"/>
<rect x="328" y="335" width="1" height="1" fill="#000"/>
<rect x="347" y="335" width="2" height="1" fill="#000"/>
<rect x="358" y="335" width="1" height="1" fill="#000"/>
<rect x="361" y="335" width="1" height="1" fill="#000"/>
<rect x="369" y="335" width="1" height="1" fill="#000"/>
<rect x="321" y="338" width="2" height="1" fill="#000"/>
<rect x="338" y="337" width="3" height="1" fill="#000"/>
<rect x="338" y="338" width="1" height="1" fill="#000"/>
<rect x="344" y="337" width="2" height="1" fill="#000"/>
<rect x="343" y="338" width="1" height="1" fill="#000"/>
<rect x="348" y="337" width="2" height="1" fill="#000"/>
<rect x="352" y="337" width="3" height="1" fill="#000"/>
<rect x="357" y="337" width="2" height="1" fill="#000"/>
<rect x="359" y="338" width="1" height="1" fill="#000"/>
<rect x="361" y="337" width="1" height="1" fill="#000"/>
<rect x="368" y="337" width="1" height="1" fill="#000"/>
<rect x="371" y="337" width="1" height="1" fill="#000"/>
<rect x="377" y="338" width="1" height="1" fill="#000"/>
<rect x="345" y="340" width="1" height="1" fill="#000"/>
<rect x="348" y="340" width="2" height="1" fill="#000"/>
<rect x="356" y="340" width="2" height="1" fill="#000"/>
<rect x="365" y="340" width="1" height="1" fill="#000"/>
<rect x="369" y="340" width="1" height="1" fill="#000"/>
<rect x="342" y="342" width="2" height="1" fill="#000"/>
<rect x="357" y="342" width="2" height="1" fill="#000"/>
<rect x="361" y="342" width="1" height="1" fill="#000"/>
<rect x="364" y="342" width="2" height="1" fill="#000"/>
<rect x="335" y="344" width="2" height="1" fill="#000"/>
<rect x="339" y="344" width="2" height="1" fill="#000"/>
<rect x="346" y="344" width="1" height="1" fill="#000"/>
<rect x="348" y="344" width="1" height="1" fill="#000"/>
<rect x="356" y="344" width="2" height="1" fill="#000"/>
<rect x="328" y="346" width="2" height="1" fill="#000"/>
<rect x="335" y="346" width="1" height="1" fill="#000"/>
<rect x="352" y="347" width="2" height="1" fill="#000"/>
<rect x="358" y="346" width="3" height="1" fill="#000"/>
<rect x="364" y="347" width="2" height="1" fill="#000"/>
<rect x="372" y="346" width="1" height="1" fill="#000"/>
<rect x="375" y="347" width="1" height="1" fill="#000"/>
<rect x="341" y="349" width="1" height="1" fill="#000"/>
<rect x="343" y="349" width="1" height="1" fill="#000"/>
<rect x="346" y="349" width="4" height="1" fill="#000"/>
<rect x="356" y="349" width="2" height="1" fill="#000"/>
<rect x="363" y="349" width="1" height="1" fill="#000"/>
<rect x="354" y="351" width="2" height="1" fill="#000"/>
<rect x="357" y="351" width="1" height="1" fill="#000"/>
<rect x="359" y="351" width="2" height="1" fill="#000"/>
<rect x="372" y="351" width="2" height="1" fill="#000"/>
<rect x="329" y="353" width="4" height="1" fill="#000"/>
<rect x="336" y="353" width="1" height="1" fill="#000"/>
<rect x="373" y="353" width="2" height="1" fill="#000"/>
<rect x="325" y="355" width="2" height="1" fill="#000"/>
<rect x="333" y="355" width="2" height="1" fill="#000"/>
<rect x="334" y="356" width="2" height="1" fill="#000"/>
<rect x="339" y="356" width="2" height="1" fill="#000"/>
<rect x="348" y="355" width="1" height="1" fill="#000"/>
<rect x="353" y="356" width="1" height="1" fill="#000"/>
<rect x="355" y="355" width="2" height="1" fill="#000"/>
<rect x="363" y="356" width="1" height="1" fill="#000"/>
<rect x="367" y="356" width="2" height="1" fill="#000"/>
<rect x="376" y="356" width="2" height="1" fill="#000"/>
<rect x="333" y="358" width="2" height="1" fill="#000"/>
<rect x="348" y="358" width="1" height="1" fill="#000"/>
<rect x="366" y="358" width="2" height="1" fill="#000"/>
<rect x="326" y="360" width="1" height="1" fill="#000"/>
<rect x="338" y="360" width="4" height="1" fill="#000"/>
<rect x="348" y="360" width="1" height="1" fill="#000"/>
<rect x="354" y="360" width="1" height="1" fill="#000"/>
<rect x="358" y="360" width="3" height="1" fill="#000"/>
<rect x="372" y="360" width="2" height="1" fill="#000"/>
<rect x="375" y="360" width="1" height="1" fill="#000"/>
<rect x="314" y="363" width="2" height="1" fill="#000"/>
<rect x="332" y="363" width="1" height="1" fill="#000"/>
<rect x="336" y="363" width="1" height="1" fill="#000"/>
<rect x="338" y="363" width="1" height="1" fill="#000"/>
<rect x="341" y="362" width="3" height="1" fill="#000"/>
<rect x="347" y="362" width="1" height="1" fill="#000"/>
<rect x="348" y="363" width="2" height="1" fill="#000"/>
<rect x="350" y="362" width="1" height="1" fill="#000"/>
<rect x="351" y="363" width="2" height="1" fill="#000"/>
<rect x="357" y="363" width="1" height="1" fill="#000"/>
<rect x="358" y="362" width="2" height="1" fill="#000"/>
<rect x="365" y="362" width="1" height="1" fill="#000"/>
<rect x="378" y="363" width="1" height="1" fill="#000"/>
<rect x="379" y="362" width="1" height="1" fill="#000"/>
<rect x="342" y="365" width="2" height="1" fill="#000"/>
<rect x="360" y="365" width="3" height="1" fill="#000"/>
<rect x="349" y="367" width="5" height="1" fill="#000"/>
<rect x="357" y="367" width="4" height="1" fill="#000"/>
<rect x="363" y="367" width="1" height="1" fill="#000"/>
<rect x="324" y="369" width="2" height="1" fill="#000"/>
<rect x="328" y="369" width="1" height="1" fill="#000"/>
<rect x="343" y="369" width="2" height="1" fill="#000"/>
<rect x="347" y="369" width="2" height="1" fill="#000"/>
<rect x="362" y="369" width="3" height="1" fill="#000"/>
<rect x="326" y="371" width="2" height="1" fill="#000"/>
<rect x="329" y="371" width="2" height="1" fill="#000"/>
<rect x="332" y="372" width="2" height="1" fill="#000"/>
<rect x="339" y="371" width="1" height="1" fill="#000"/>
<rect x="340" y="372" width="1" height="1" fill="#000"/>
<rect x="344" y="372" width="2" height="1" fill="#000"/>
<rect x="347" y="372" width="2" height="1" fill="#000"/>
<rect x="352" y="371" width="1" height="1" fill="#000"/>
<rect x="354" y="371" width="2" height="1" fill="#000"/>
<rect x="355" y="372" width="3" height="1" fill="#000"/>
<rect x="357" y="371" width="2" height="1" fill="#000"/>
<rect x="360" y="371" width="2" height="1" fill="#000"/>
<rect x="363" y="372" width="2" height="1" fill="#000"/>
<rect x="366" y="371" width="1" height="1" fill="#000"/>
<rect x="368" y="371" width="2" height="1" fill="#000"/>
<rect x="375" y="372" width="1" height="1" fill="#000"/>
<rect x="325" y="374" width="2" height="1" fill="#000"/>
<rect x="330" y="374" width="1" height="1" fill="#000"/>
<rect x="354" y="374" width="4" height="1" fill="#000"/>
<rect x="373" y="374" width="1" height="1" fill="#000"/>
<rect x="318" y="376" width="1" height="1" fill="#000"/>
<rect x="339" y="376" width="1" height="1" fill="#000"/>
<rect x="341" y="376" width="2" height="1" fill="#000"/>
<rect x="344" y="376" width="2" height="1" fill="#000"/>
<rect x="347" y="376" width="3" height="1" fill="#000"/>
<rect x="324" y="378" width="1" height="1" fill="#000"/>
<rect x="331" y="378" width="5" height="1" fill="#000"/>
<rect x="338" y="378" width="2" height="1" fill="#000"/>
<rect x="321" y="380" width="2" height="1" fill="#000"/>
<rect x="335" y="381" width="1" height="1" fill="#000"/>
<rect x="345" y="380" width="2" height="1" fill="#000"/>
<rect x="350" y="380" width="2" height="1" fill="#000"/>
<rect x="350" y="381" width="2" height="1" fill="#000"/>
<rect x="354" y="381" width="1" height="1" fill="#000"/>
<rect x="356" y="380" width="1" height="1" fill="#000"/>
<rect x="358" y="381" width="2" height="1" fill="#000"/>
<rect x="374" y="380" width="2" height="1" fill="#000"/>
<rect x="324" y="383" width="2" height="1" fill="#000"/>
<rect x="335" y="383" width="2" height="1" fill="#000"/>
<rect x="355" y="385" width="1" height="1" fill="#000"/>
<rect x="368" y="385" width="1" height="1" fill="#000"/>
<rect x="341" y="387" width="4" height="1" fill="#000"/>
<rect x="317" y="389" width="2" height="1" fill="#000"/>
<rect x="338" y="389" width="1" height="1" fill="#000"/>
<rect x="366" y="389" width="2" height="1" fill="#000"/>
<rect x="320" y="390" width="1" height="1" fill="#000"/>
<rect x="333" y="390" width="1" height="1" fill="#000"/>
<rect x="348" y="390" width="1" height="1" fill="#000"/>
<rect x="343" y="392" width="2" height="1" fill="#000"/>
<rect x="356" y="392" width="2" height="1" fill="#000"/>
<rect x="363" y="392" width="2" height="1" fill="#000"/>
<rect x="330" y="394" width="2" height="1" fill="#000"/>
<rect x="342" y="394" width="1" height="1" fill="#000"/>
<rect x="363" y="394" width="1" height="1" fill="#000"/>
<rect x="371" y="394" width="2" height="1" fill="#000"/>
<rect x="374" y="394" width="1" height="1" fill="#000"/>
<rect x="343" y="396" width="2" height="1" fill="#000"/>
<rect x="312" y="398" width="2" height="1" fill="#000"/>
<rect x="350" y="398" width="1" height="1" fill="#000"/>
<rect x="354" y="401" width="2" height="1" fill="#000"/>
<rect x="360" y="401" width="2" height="1" fill="#000"/>
<rect x="318" y="403" width="1" height="1" fill="#000"/>
<rect x="378" y="403" width="2" height="1" fill="#000"/>
<rect x="319" y="405" width="1" height="1" fill="#000"/>
<rect x="336" y="408" width="2" height="1" fill="#000"/>
<rect x="348" y="408" width="2" height="1" fill="#000"/>
<rect x="337" y="410" width="2" height="1" fill="#000"/>
<rect x="355" y="414" width="1" height="1" fill="#000"/>
<rect x="342" y="416" width="2" height="1" fill="#000"/>
<rect x="344" y="421" width="1" height="1" fill="#000"/>
<rect x="338" y="425" width="2" height="1" fill="#000"/>
<rect x="343" y="425" width="2" height="1" fill="#000"/>
<rect x="342" y="426" width="1" height="1" fill="#000"/>
<rect x="339" y="434" width="2" height="1" fill="#000"/>
<rect x="338" y="435" width="1" height="1" fill="#000"/>
<rect x="354" y="443" width="2" height="1" fill="#000"/>
<rect x="322" y="446" width="2" height="1" fill="#000"/>
<rect x="325" y="446" width="2" height="1" fill="#000"/>
<rect x="328" y="446" width="1" height="1" fill="#000"/>
<rect x="336" y="450" width="1" height="1" fill="#000"/>
<rect x="132" y="374" width="1" height="1" fill="#000"/>
<rect x="136" y="374" width="1" height="1" fill="#000"/>
<rect x="187" y="376" width="1" height="1" fill="#000"/>
<rect x="142" y="378" width="2" height="1" fill="#000"/>
<rect x="185" y="378" width="2" height="1" fill="#000"/>
<rect x="138" y="380" width="1" height="1" fill="#000"/>
<rect x="167" y="380" width="2" height="1" fill="#000"/>
<rect x="191" y="381" width="1" height="1" fill="#000"/>
<rect x="155" y="383" width="2" height="1" fill="#000"/>
<rect x="180" y="383" width="2" height="1" fill="#000"/>
<rect x="144" y="389" width="2" height="1" fill="#000"/>
<rect x="165" y="389" width="1" height="1" fill="#000"/>
<rect x="201" y="389" width="2" height="1" fill="#000"/>
<rect x="157" y="390" width="1" height="1" fill="#000"/>
<rect x="160" y="390" width="2" height="1" fill="#000"/>
<rect x="154" y="392" width="1" height="1" fill="#000"/>
<rect x="163" y="392" width="1" height="1" fill="#000"/>
<rect x="199" y="392" width="1" height="1" fill="#000"/>
<rect x="204" y="392" width="1" height="1" fill="#000"/>
<rect x="205" y="394" width="2" height="1" fill="#000"/>
<rect x="132" y="396" width="2" height="1" fill="#000"/>
<rect x="135" y="396" width="2" height="1" fill="#000"/>
<rect x="156" y="396" width="2" height="1" fill="#000"/>
<rect x="200" y="396" width="2" height="1" fill="#000"/>
<rect x="161" y="398" width="2" height="1" fill="#000"/>
<rect x="195" y="398" width="2" height="1" fill="#000"/>
<rect x="161" y="401" width="1" height="1" fill="#000"/>
<rect x="200" y="403" width="3" height="1" fill="#000"/>
<rect x="162" y="405" width="1" height="1" fill="#000"/>
<rect x="166" y="405" width="2" height="1" fill="#000"/>
<rect x="214" y="405" width="1" height="1" fill="#000"/>
<rect x="198" y="408" width="2" height="1" fill="#000"/>
<rect x="148" y="410" width="1" height="1" fill="#000"/>
<rect x="143" y="412" width="2" height="1" fill="#000"/>
<rect x="153" y="412" width="2" height="1" fill="#000"/>
<rect x="194" y="412" width="2" height="1" fill="#000"/>
<rect x="138" y="414" width="2" height="1" fill="#000"/>
<rect x="207" y="416" width="2" height="1" fill="#000"/>
<rect x="144" y="419" width="1" height="1" fill="#000"/>
<rect x="174" y="419" width="1" height="1" fill="#000"/>
<rect x="131" y="421" width="2" height="1" fill="#000"/>
<rect x="156" y="421" width="1" height="1" fill="#000"/>
<rect x="182" y="421" width="2" height="1" fill="#000"/>
<rect x="147" y="423" width="2" height="1" fill="#000"/>
<rect x="157" y="423" width="2" height="1" fill="#000"/>
<rect x="161" y="423" width="2" height="1" fill="#000"/>
<rect x="172" y="423" width="1" height="1" fill="#000"/>
<rect x="134" y="425" width="2" height="1" fill="#000"/>
<rect x="130" y="426" width="1" height="1" fill="#000"/>
<rect x="208" y="426" width="1" height="1" fill="#000"/>
<rect x="169" y="428" width="2" height="1" fill="#000"/>
<rect x="172" y="428" width="2" height="1" fill="#000"/>
<rect x="191" y="428" width="1" height="1" fill="#000"/>
<rect x="180" y="430" width="1" height="1" fill="#000"/>
<rect x="205" y="430" width="2" height="1" fill="#000"/>
<rect x="143" y="432" width="2" height="1" fill="#000"/>
<rect x="193" y="432" width="1" height="1" fill="#000"/>
<rect x="130" y="434" width="1" height="1" fill="#000"/>
<rect x="132" y="437" width="2" height="1" fill="#000"/>
<rect x="132" y="441" width="2" height="1" fill="#000"/>
<rect x="141" y="441" width="1" height="1" fill="#000"/>
<rect x="150" y="439" width="1" height="1" fill="#000"/>
<rect x="156" y="439" width="1" height="1" fill="#000"/>
<rect x="169" y="439" width="1" height="1" fill="#000"/>
<rect x="165" y="444" width="2" height="1" fill="#000"/>
<rect x="187" y="443" width="1" height="1" fill="#000"/>
<rect x="145" y="446" width="2" height="1" fill="#000"/>
<rect x="169" y="446" width="1" height="1" fill="#000"/>
<rect x="144" y="448" width="2" height="1" fill="#000"/>
<rect x="174" y="450" width="2" height="1" fill="#000"/>
<rect x="203" y="450" width="1" height="1" fill="#000"/>
<rect x="141" y="455" width="1" height="1" fill="#000"/>
<rect x="152" y="457" width="2" height="1" fill="#000"/>
<rect x="130" y="459" width="1" height="1" fill="#000"/>
<rect x="212" y="482" width="2" height="1" fill="#000"/>
<rect x="382" y="274" width="1" height="1" fill="#000"/>
<rect x="449" y="277" width="2" height="1" fill="#000"/>
<rect x="419" y="279" width="2" height="1" fill="#000"/>
<rect x="415" y="281" width="2" height="1" fill="#000"/>
<rect x="415" y="284" width="2" height="1" fill="#000"/>
<rect x="386" y="288" width="1" height="1" fill="#000"/>
<rect x="457" y="290" width="1" height="1" fill="#000"/>
<rect x="437" y="292" width="2" height="1" fill="#000"/>
<rect x="397" y="297" width="1" height="1" fill="#000"/>
<rect x="435" y="297" width="2" height="1" fill="#000"/>
<rect x="417" y="299" width="1" height="1" fill="#000"/>
<rect x="454" y="299" width="1" height="1" fill="#000"/>
<rect x="462" y="299" width="1" height="1" fill="#000"/>
<rect x="402" y="301" width="1" height="1" fill="#000"/>
<rect x="435" y="301" width="1" height="1" fill="#000"/>
<rect x="405" y="304" width="1" height="1" fill="#000"/>
<rect x="425" y="306" width="2" height="1" fill="#000"/>
<rect x="431" y="306" width="1" height="1" fill="#000"/>
<rect x="389" y="311" width="2" height="1" fill="#000"/>
<rect x="406" y="310" width="1" height="1" fill="#000"/>
<rect x="416" y="310" width="2" height="1" fill="#000"/>
<rect x="452" y="311" width="1" height="1" fill="#000"/>
<rect x="443" y="315" width="2" height="1" fill="#000"/>
<rect x="409" y="319" width="2" height="1" fill="#000"/>
<rect x="422" y="320" width="1" height="1" fill="#000"/>
<rect x="395" y="322" width="1" height="1" fill="#000"/>
<rect x="454" y="322" width="1" height="1" fill="#000"/>
<rect x="458" y="322" width="2" height="1" fill="#000"/>
<rect x="411" y="324" width="2" height="1" fill="#000"/>
<rect x="419" y="324" width="1" height="1" fill="#000"/>
<rect x="436" y="324" width="3" height="1" fill="#000"/>
<rect x="448" y="324" width="2" height="1" fill="#000"/>
<rect x="413" y="326" width="1" height="1" fill="#000"/>
<rect x="380" y="328" width="2" height="1" fill="#000"/>
<rect x="398" y="328" width="2" height="1" fill="#000"/>
<rect x="415" y="328" width="1" height="1" fill="#000"/>
<rect x="450" y="328" width="1" height="1" fill="#000"/>
<rect x="460" y="331" width="2" height="1" fill="#000"/>
<rect x="422" y="331" width="1" height="1" fill="#000"/>
<rect x="387" y="333" width="1" height="1" fill="#000"/>
<rect x="404" y="333" width="2" height="1" fill="#000"/>
<rect x="464" y="333" width="1" height="1" fill="#000"/>
<rect x="386" y="335" width="2" height="1" fill="#000"/>
<rect x="423" y="335" width="1" height="1" fill="#000"/>
<rect x="433" y="335" width="1" height="1" fill="#000"/>
<rect x="435" y="335" width="2" height="1" fill="#000"/>
<rect x="459" y="335" width="2" height="1" fill="#000"/>
<rect x="545" y="281" width="1" height="1" fill="#000"/>
<rect x="490" y="284" width="1" height="1" fill="#000"/>
<rect x="496" y="286" width="1" height="1" fill="#000"/>
<rect x="496" y="288" width="1" height="1" fill="#000"/>
<rect x="519" y="292" width="1" height="1" fill="#000"/>
<rect x="496" y="293" width="1" height="1" fill="#000"/>
<rect x="536" y="293" width="2" height="1" fill="#000"/>
<rect x="474" y="295" width="1" height="1" fill="#000"/>
<rect x="490" y="295" width="1" height="1" fill="#000"/>
<rect x="545" y="299" width="1" height="1" fill="#000"/>
<rect x="475" y="301" width="2" height="1" fill="#000"/>
<rect x="490" y="302" width="1" height="1" fill="#000"/>
<rect x="523" y="302" width="2" height="1" fill="#000"/>
<rect x="523" y="304" width="2" height="1" fill="#000"/>
<rect x="545" y="304" width="1" height="1" fill="#000"/>
<rect x="496" y="306" width="1" height="1" fill="#000"/>
<rect x="465" y="308" width="3" height="1" fill="#000"/>
<rect x="473" y="308" width="2" height="1" fill="#000"/>
<rect x="490" y="308" width="1" height="1" fill="#000"/>
<rect x="511" y="308" width="2" height="1" fill="#000"/>
<rect x="481" y="310" width="1" height="1" fill="#000"/>
<rect x="496" y="311" width="1" height="1" fill="#000"/>
<rect x="544" y="310" width="2" height="1" fill="#000"/>
<rect x="465" y="313" width="1" height="1" fill="#000"/>
<rect x="490" y="313" width="1" height="1" fill="#000"/>
<rect x="496" y="313" width="1" height="1" fill="#000"/>
<rect x="545" y="313" width="1" height="1" fill="#000"/>
<rect x="472" y="315" width="1" height="1" fill="#000"/>
<rect x="496" y="315" width="1" height="1" fill="#000"/>
<rect x="514" y="315" width="1" height="1" fill="#000"/>
<rect x="536" y="315" width="2" height="1" fill="#000"/>
<rect x="548" y="315" width="2" height="1" fill="#000"/>
<rect x="513" y="317" width="1" height="1" fill="#000"/>
<rect x="510" y="320" width="2" height="1" fill="#000"/>
<rect x="546" y="320" width="2" height="1" fill="#000"/>
<rect x="506" y="324" width="1" height="1" fill="#000"/>
<rect x="496" y="326" width="1" height="1" fill="#000"/>
<rect x="512" y="326" width="2" height="1" fill="#000"/>
<rect x="534" y="326" width="1" height="1" fill="#000"/>
<rect x="545" y="326" width="1" height="1" fill="#000"/>
<rect x="469" y="328" width="1" height="1" fill="#000"/>
<rect x="535" y="328" width="1" height="1" fill="#000"/>
<rect x="545" y="328" width="1" height="1" fill="#000"/>
<rect x="471" y="331" width="1" height="1" fill="#000"/>
<rect x="470" y="333" width="2" height="1" fill="#000"/>
<rect x="545" y="331" width="2" height="1" fill="#000"/>
<rect x="490" y="335" width="1" height="1" fill="#000"/>
<rect x="496" y="335" width="1" height="1" fill="#000"/>
<rect x="383" y="338" width="2" height="1" fill="#000"/>
<rect x="420" y="338" width="1" height="1" fill="#000"/>
<rect x="441" y="337" width="1" height="1" fill="#000"/>
<rect x="458" y="338" width="1" height="1" fill="#000"/>
<rect x="411" y="340" width="2" height="1" fill="#000"/>
<rect x="438" y="340" width="2" height="1" fill="#000"/>
<rect x="447" y="342" width="1" height="1" fill="#000"/>
<rect x="389" y="344" width="1" height="1" fill="#000"/>
<rect x="415" y="344" width="2" height="1" fill="#000"/>
<rect x="457" y="344" width="2" height="1" fill="#000"/>
<rect x="460" y="344" width="1" height="1" fill="#000"/>
<rect x="415" y="346" width="2" height="1" fill="#000"/>
<rect x="436" y="346" width="2" height="1" fill="#000"/>
<rect x="448" y="347" width="2" height="1" fill="#000"/>
<rect x="380" y="349" width="2" height="1" fill="#000"/>
<rect x="418" y="349" width="2" height="1" fill="#000"/>
<rect x="431" y="349" width="2" height="1" fill="#000"/>
<rect x="460" y="349" width="2" height="1" fill="#000"/>
<rect x="380" y="351" width="1" height="1" fill="#000"/>
<rect x="403" y="351" width="2" height="1" fill="#000"/>
<rect x="434" y="351" width="2" height="1" fill="#000"/>
<rect x="441" y="351" width="1" height="1" fill="#000"/>
<rect x="446" y="351" width="1" height="1" fill="#000"/>
<rect x="414" y="353" width="1" height="1" fill="#000"/>
<rect x="426" y="353" width="1" height="1" fill="#000"/>
<rect x="430" y="353" width="1" height="1" fill="#000"/>
<rect x="441" y="353" width="2" height="1" fill="#000"/>
<rect x="458" y="353" width="1" height="1" fill="#000"/>
<rect x="405" y="356" width="1" height="1" fill="#000"/>
<rect x="417" y="356" width="1" height="1" fill="#000"/>
<rect x="443" y="355" width="1" height="1" fill="#000"/>
<rect x="443" y="356" width="1" height="1" fill="#000"/>
<rect x="445" y="356" width="1" height="1" fill="#000"/>
<rect x="454" y="356" width="1" height="1" fill="#000"/>
<rect x="439" y="360" width="1" height="1" fill="#000"/>
<rect x="442" y="360" width="2" height="1" fill="#000"/>
<rect x="384" y="363" width="1" height="1" fill="#000"/>
<rect x="410" y="363" width="2" height="1" fill="#000"/>
<rect x="431" y="362" width="1" height="1" fill="#000"/>
<rect x="438" y="362" width="2" height="1" fill="#000"/>
<rect x="448" y="363" width="1" height="1" fill="#000"/>
<rect x="423" y="365" width="2" height="1" fill="#000"/>
<rect x="435" y="365" width="2" height="1" fill="#000"/>
<rect x="419" y="367" width="2" height="1" fill="#000"/>
<rect x="396" y="369" width="2" height="1" fill="#000"/>
<rect x="433" y="369" width="1" height="1" fill="#000"/>
<rect x="448" y="369" width="1" height="1" fill="#000"/>
<rect x="406" y="371" width="2" height="1" fill="#000"/>
<rect x="449" y="371" width="1" height="1" fill="#000"/>
<rect x="461" y="371" width="2" height="1" fill="#000"/>
<rect x="426" y="372" width="1" height="1" fill="#000"/>
<rect x="442" y="374" width="2" height="1" fill="#000"/>
<rect x="445" y="374" width="1" height="1" fill="#000"/>
<rect x="395" y="376" width="1" height="1" fill="#000"/>
<rect x="418" y="376" width="1" height="1" fill="#000"/>
<rect x="452" y="376" width="2" height="1" fill="#000"/>
<rect x="459" y="376" width="1" height="1" fill="#000"/>
<rect x="424" y="380" width="2" height="1" fill="#000"/>
<rect x="395" y="383" width="1" height="1" fill="#000"/>
<rect x="430" y="383" width="2" height="1" fill="#000"/>
<rect x="403" y="385" width="2" height="1" fill="#000"/>
<rect x="431" y="385" width="1" height="1" fill="#000"/>
<rect x="439" y="385" width="1" height="1" fill="#000"/>
<rect x="443" y="385" width="1" height="1" fill="#000"/>
<rect x="450" y="390" width="1" height="1" fill="#000"/>
<rect x="391" y="392" width="2" height="1" fill="#000"/>
<rect x="400" y="394" width="2" height="1" fill="#000"/>
<rect x="443" y="396" width="2" height="1" fill="#000"/>
<rect x="407" y="398" width="2" height="1" fill="#000"/>
<rect x="465" y="337" width="1" height="1" fill="#000"/>
<rect x="467" y="337" width="2" height="1" fill="#000"/>
<rect x="490" y="338" width="1" height="1" fill="#000"/>
<rect x="494" y="337" width="2" height="1" fill="#000"/>
<rect x="496" y="338" width="1" height="1" fill="#000"/>
<rect x="498" y="337" width="2" height="1" fill="#000"/>
<rect x="525" y="337" width="2" height="1" fill="#000"/>
<rect x="472" y="340" width="2" height="1" fill="#000"/>
<rect x="481" y="340" width="6" height="1" fill="#000"/>
<rect x="542" y="340" width="2" height="1" fill="#000"/>
<rect x="496" y="342" width="1" height="1" fill="#000"/>
<rect x="517" y="344" width="2" height="1" fill="#000"/>
<rect x="481" y="347" width="1" height="1" fill="#000"/>
<rect x="520" y="347" width="2" height="1" fill="#000"/>
<rect x="490" y="349" width="1" height="1" fill="#000"/>
<rect x="510" y="349" width="2" height="1" fill="#000"/>
<rect x="496" y="351" width="1" height="1" fill="#000"/>
<rect x="496" y="353" width="1" height="1" fill="#000"/>
<rect x="481" y="355" width="1" height="1" fill="#000"/>
<rect x="484" y="356" width="1" height="1" fill="#000"/>
<rect x="491" y="356" width="1" height="1" fill="#000"/>
<rect x="496" y="355" width="1" height="1" fill="#000"/>
<rect x="503" y="356" width="1" height="1" fill="#000"/>
<rect x="481" y="358" width="1" height="1" fill="#000"/>
<rect x="497" y="362" width="1" height="1" fill="#000"/>
<rect x="481" y="363" width="1" height="1" fill="#000"/>
<rect x="484" y="367" width="1" height="1" fill="#000"/>
<rect x="504" y="367" width="2" height="1" fill="#000"/>
<rect x="507" y="367" width="2" height="1" fill="#000"/>
<rect x="468" y="369" width="1" height="1" fill="#000"/>
<rect x="496" y="369" width="1" height="1" fill="#000"/>
<rect x="536" y="369" width="2" height="1" fill="#000"/>
<rect x="466" y="371" width="2" height="1" fill="#000"/>
<rect x="481" y="371" width="1" height="1" fill="#000"/>
<rect x="466" y="374" width="1" height="1" fill="#000"/>
<rect x="496" y="374" width="1" height="1" fill="#000"/>
<rect x="496" y="376" width="1" height="1" fill="#000"/>
<rect x="473" y="378" width="1" height="1" fill="#000"/>
<rect x="496" y="380" width="1" height="1" fill="#000"/>
<rect x="498" y="380" width="1" height="1" fill="#000"/>
<rect x="467" y="381" width="2" height="1" fill="#000"/>
<rect x="499" y="385" width="1" height="1" fill="#000"/>
<rect x="482" y="387" width="1" height="1" fill="#000"/>
<rect x="514" y="387" width="2" height="1" fill="#000"/>
<rect x="511" y="389" width="2" height="1" fill="#000"/>
<rect x="479" y="392" width="1" height="1" fill="#000"/>
<rect x="506" y="392" width="1" height="1" fill="#000"/>
<rect x="390" y="399" width="2" height="1" fill="#000"/>
<rect x="435" y="401" width="1" height="1" fill="#000"/>
<rect x="385" y="403" width="1" height="1" fill="#000"/>
<rect x="399" y="403" width="1" height="1" fill="#000"/>
<rect x="440" y="403" width="2" height="1" fill="#000"/>
<rect x="411" y="405" width="2" height="1" fill="#000"/>
<rect x="407" y="408" width="2" height="1" fill="#000"/>
<rect x="436" y="407" width="2" height="1" fill="#000"/>
<rect x="461" y="408" width="1" height="1" fill="#000"/>
<rect x="385" y="410" width="1" height="1" fill="#000"/>
<rect x="392" y="410" width="1" height="1" fill="#000"/>
<rect x="432" y="410" width="2" height="1" fill="#000"/>
<rect x="445" y="410" width="2" height="1" fill="#000"/>
<rect x="452" y="410" width="2" height="1" fill="#000"/>
<rect x="462" y="410" width="1" height="1" fill="#000"/>
<rect x="406" y="412" width="3" height="1" fill="#000"/>
<rect x="427" y="412" width="3" height="1" fill="#000"/>
<rect x="420" y="414" width="1" height="1" fill="#000"/>
<rect x="442" y="414" width="2" height="1" fill="#000"/>
<rect x="433" y="417" width="2" height="1" fill="#000"/>
<rect x="445" y="417" width="1" height="1" fill="#000"/>
<rect x="454" y="421" width="2" height="1" fill="#000"/>
<rect x="403" y="423" width="1" height="1" fill="#000"/>
<rect x="460" y="423" width="2" height="1" fill="#000"/>
<rect x="444" y="426" width="1" height="1" fill="#000"/>
<rect x="448" y="426" width="2" height="1" fill="#000"/>
<rect x="417" y="428" width="1" height="1" fill="#000"/>
<rect x="436" y="428" width="1" height="1" fill="#000"/>
<rect x="444" y="432" width="1" height="1" fill="#000"/>
<rect x="390" y="434" width="1" height="1" fill="#000"/>
<rect x="409" y="435" width="2" height="1" fill="#000"/>
<rect x="454" y="435" width="1" height="1" fill="#000"/>
<rect x="504" y="399" width="1" height="1" fill="#000"/>
<rect x="549" y="401" width="1" height="1" fill="#000"/>
<rect x="501" y="403" width="2" height="1" fill="#000"/>
<rect x="472" y="408" width="2" height="1" fill="#000"/>
<rect x="465" y="421" width="2" height="1" fill="#000"/>
<rect x="486" y="423" width="2" height="1" fill="#000"/>
<rect x="536" y="425" width="2" height="1" fill="#000"/>
<rect x="71" y="69" width="2" height="1" fill="#000"/>
<rect x="79" y="94" width="1" height="1" fill="#000"/>
<rect x="84" y="98" width="1" height="1" fill="#000"/>
<rect x="74" y="126" width="2" height="1" fill="#000"/>
<rect x="369" y="74" width="1" height="1" fill="#000"/>
<rect x="364" y="114" width="1" height="1" fill="#000"/>
<rect x="251" y="153" width="1" height="1" fill="#000"/>
<rect x="453" y="90" width="2" height="1" fill="#000"/>
<rect x="501" y="117" width="1" height="1" fill="#000"/>
<rect x="424" y="146" width="1" height="1" fill="#000"/>
<rect x="80" y="189" width="2" height="1" fill="#000"/>
<rect x="74" y="198" width="2" height="1" fill="#000"/>
<rect x="70" y="204" width="2" height="1" fill="#000"/>
<rect x="77" y="214" width="2" height="1" fill="#000"/>
<rect x="98" y="230" width="1" height="1" fill="#000"/>
<rect x="134" y="234" width="2" height="1" fill="#000"/>
<rect x="144" y="232" width="2" height="1" fill="#000"/>
<rect x="169" y="234" width="2" height="1" fill="#000"/>
<rect x="69" y="252" width="1" height="1" fill="#000"/>
<rect x="69" y="259" width="1" height="1" fill="#000"/>
<rect x="72" y="259" width="2" height="1" fill="#000"/>
<rect x="110" y="259" width="2" height="1" fill="#000"/>
<rect x="354" y="164" width="1" height="1" fill="#000"/>
<rect x="355" y="211" width="2" height="1" fill="#000"/>
<rect x="319" y="225" width="2" height="1" fill="#000"/>
<rect x="378" y="232" width="2" height="1" fill="#000"/>
<rect x="360" y="238" width="2" height="1" fill="#000"/>
<rect x="358" y="239" width="1" height="1" fill="#000"/>
<rect x="370" y="238" width="1" height="1" fill="#000"/>
<rect x="361" y="241" width="2" height="1" fill="#000"/>
<rect x="352" y="243" width="2" height="1" fill="#000"/>
<rect x="339" y="245" width="2" height="1" fill="#000"/>
<rect x="370" y="245" width="2" height="1" fill="#000"/>
<rect x="343" y="248" width="2" height="1" fill="#000"/>
<rect x="357" y="250" width="2" height="1" fill="#000"/>
<rect x="366" y="250" width="2" height="1" fill="#000"/>
<rect x="342" y="252" width="2" height="1" fill="#000"/>
<rect x="352" y="252" width="2" height="1" fill="#000"/>
<rect x="364" y="252" width="2" height="1" fill="#000"/>
<rect x="365" y="256" width="2" height="1" fill="#000"/>
<rect x="362" y="257" width="2" height="1" fill="#000"/>
<rect x="328" y="259" width="2" height="1" fill="#000"/>
<rect x="348" y="259" width="2" height="1" fill="#000"/>
<rect x="351" y="259" width="1" height="1" fill="#000"/>
<rect x="356" y="259" width="2" height="1" fill="#000"/>
<rect x="350" y="261" width="1" height="1" fill="#000"/>
<rect x="340" y="263" width="1" height="1" fill="#000"/>
<rect x="300" y="266" width="2" height="1" fill="#000"/>
<rect x="345" y="266" width="2" height="1" fill="#000"/>
<rect x="355" y="266" width="2" height="1" fill="#000"/>
<rect x="339" y="268" width="3" height="1" fill="#000"/>
<rect x="352" y="268" width="1" height="1" fill="#000"/>
<rect x="325" y="270" width="1" height="1" fill="#000"/>
<rect x="330" y="270" width="2" height="1" fill="#000"/>
<rect x="338" y="270" width="1" height="1" fill="#000"/>
<rect x="348" y="272" width="1" height="1" fill="#000"/>
<rect x="364" y="272" width="2" height="1" fill="#000"/>
<rect x="433" y="182" width="1" height="1" fill="#000"/>
<rect x="511" y="198" width="1" height="1" fill="#000"/>
<rect x="526" y="213" width="2" height="1" fill="#000"/>
<rect x="533" y="225" width="2" height="1" fill="#000"/>
<rect x="397" y="225" width="2" height="1" fill="#000"/>
<rect x="442" y="229" width="2" height="1" fill="#000"/>
<rect x="454" y="229" width="2" height="1" fill="#000"/>
<rect x="382" y="234" width="2" height="1" fill="#000"/>
<rect x="420" y="232" width="2" height="1" fill="#000"/>
<rect x="521" y="232" width="2" height="1" fill="#000"/>
<rect x="466" y="234" width="1" height="1" fill="#000"/>
<rect x="391" y="238" width="2" height="1" fill="#000"/>
<rect x="389" y="247" width="1" height="1" fill="#000"/>
<rect x="408" y="248" width="1" height="1" fill="#000"/>
<rect x="440" y="248" width="2" height="1" fill="#000"/>
<rect x="465" y="247" width="1" height="1" fill="#000"/>
<rect x="433" y="252" width="2" height="1" fill="#000"/>
<rect x="519" y="250" width="1" height="1" fill="#000"/>
<rect x="430" y="257" width="1" height="1" fill="#000"/>
<rect x="515" y="256" width="1" height="1" fill="#000"/>
<rect x="499" y="257" width="1" height="1" fill="#000"/>
<rect x="435" y="259" width="2" height="1" fill="#000"/>
<rect x="441" y="259" width="2" height="1" fill="#000"/>
<rect x="453" y="259" width="2" height="1" fill="#000"/>
<rect x="456" y="261" width="2" height="1" fill="#000"/>
<rect x="418" y="263" width="2" height="1" fill="#000"/>
<rect x="502" y="263" width="2" height="1" fill="#000"/>
<rect x="400" y="266" width="1" height="1" fill="#000"/>
<rect x="417" y="266" width="1" height="1" fill="#000"/>
<rect x="484" y="268" width="1" height="1" fill="#000"/>
<rect x="496" y="268" width="1" height="1" fill="#000"/>
<rect x="380" y="270" width="1" height="1" fill="#000"/>
<rect x="504" y="270" width="1" height="1" fill="#000"/>
<rect x="389" y="272" width="1" height="1" fill="#000"/>
<rect x="581" y="186" width="1" height="1" fill="#000"/>
<rect x="581" y="213" width="1" height="1" fill="#000"/>
<rect x="581" y="215" width="1" height="1" fill="#000"/>
<rect x="581" y="217" width="1" height="1" fill="#000"/>
<rect x="581" y="219" width="1" height="1" fill="#000"/>
<rect x="581" y="221" width="1" height="1" fill="#000"/>
<rect x="581" y="223" width="1" height="1" fill="#000"/>
<rect x="581" y="229" width="1" height="1" fill="#000"/>
<rect x="581" y="243" width="1" height="1" fill="#000"/>
<rect x="581" y="247" width="1" height="1" fill="#000"/>
<rect x="581" y="248" width="1" height="1" fill="#000"/>
<rect x="581" y="259" width="1" height="1" fill="#000"/>
<rect x="581" y="266" width="1" height="1" fill="#000"/>
<rect x="545" y="205" width="1" height="1" fill="#000"/>
<rect x="545" y="216" width="1" height="1" fill="#000"/>
<rect x="545" y="229" width="1" height="1" fill="#000"/>
<rect x="545" y="247" width="1" height="1" fill="#000"/>
<rect x="545" y="261" width="1" height="1" fill="#000"/>
<rect x="545" y="268" width="1" height="1" fill="#000"/>
<rect x="550" y="223" width="1" height="1" fill="#000"/>
<rect x="602" y="248" width="2" height="1" fill="#000"/>
<rect x="602" y="257" width="2" height="1" fill="#000"/>
<rect x="666" y="236" width="1" height="1" fill="#000"/>
<rect x="666" y="245" width="1" height="1" fill="#000"/>
<rect x="666" y="265" width="1" height="1" fill="#000"/>
<rect x="666" y="266" width="1" height="1" fill="#000"/>
<rect x="666" y="268" width="1" height="1" fill="#000"/>
<rect x="71" y="275" width="2" height="1" fill="#000"/>
<rect x="114" y="274" width="1" height="1" fill="#000"/>
<rect x="95" y="281" width="2" height="1" fill="#000"/>
<rect x="99" y="283" width="2" height="1" fill="#000"/>
<rect x="105" y="281" width="2" height="1" fill="#000"/>
<rect x="72" y="288" width="2" height="1" fill="#000"/>
<rect x="214" y="288" width="1" height="1" fill="#000"/>
<rect x="71" y="292" width="2" height="1" fill="#000"/>
<rect x="70" y="299" width="1" height="1" fill="#000"/>
<rect x="69" y="302" width="1" height="1" fill="#000"/>
<rect x="75" y="301" width="2" height="1" fill="#000"/>
<rect x="81" y="304" width="2" height="1" fill="#000"/>
<rect x="74" y="306" width="1" height="1" fill="#000"/>
<rect x="84" y="306" width="1" height="1" fill="#000"/>
<rect x="172" y="301" width="1" height="1" fill="#000"/>
<rect x="206" y="306" width="2" height="1" fill="#000"/>
<rect x="164" y="310" width="2" height="1" fill="#000"/>
<rect x="191" y="310" width="2" height="1" fill="#000"/>
<rect x="148" y="311" width="2" height="1" fill="#000"/>
<rect x="185" y="313" width="2" height="1" fill="#000"/>
<rect x="79" y="315" width="1" height="1" fill="#000"/>
<rect x="85" y="315" width="1" height="1" fill="#000"/>
<rect x="111" y="317" width="1" height="1" fill="#000"/>
<rect x="80" y="319" width="1" height="1" fill="#000"/>
<rect x="144" y="319" width="1" height="1" fill="#000"/>
<rect x="210" y="320" width="1" height="1" fill="#000"/>
<rect x="167" y="326" width="2" height="1" fill="#000"/>
<rect x="174" y="326" width="1" height="1" fill="#000"/>
<rect x="186" y="335" width="1" height="1" fill="#000"/>
<rect x="188" y="340" width="3" height="1" fill="#000"/>
<rect x="171" y="349" width="2" height="1" fill="#000"/>
<rect x="194" y="356" width="2" height="1" fill="#000"/>
<rect x="212" y="355" width="2" height="1" fill="#000"/>
<rect x="192" y="367" width="1" height="1" fill="#000"/>
<rect x="176" y="371" width="2" height="1" fill="#000"/>
<rect x="207" y="371" width="2" height="1" fill="#000"/>
<rect x="145" y="355" width="1" height="1" fill="#000"/>
<rect x="145" y="362" width="1" height="1" fill="#000"/>
<rect x="144" y="365" width="1" height="1" fill="#000"/>
<rect x="138" y="369" width="1" height="1" fill="#000"/>
<rect x="130" y="349" width="2" height="1" fill="#000"/>
<rect x="133" y="335" width="1" height="1" fill="#000"/>
<rect x="134" y="337" width="2" height="1" fill="#000"/>
<rect x="220" y="281" width="2" height="1" fill="#000"/>
<rect x="284" y="279" width="1" height="1" fill="#000"/>
<rect x="258" y="286" width="2" height="1" fill="#000"/>
<rect x="301" y="290" width="2" height="1" fill="#000"/>
<rect x="292" y="293" width="1" height="1" fill="#000"/>
<rect x="247" y="299" width="2" height="1" fill="#000"/>
<rect x="255" y="310" width="3" height="1" fill="#000"/>
<rect x="288" y="313" width="2" height="1" fill="#000"/>
<rect x="239" y="320" width="2" height="1" fill="#000"/>
<rect x="274" y="320" width="2" height="1" fill="#000"/>
<rect x="251" y="337" width="2" height="1" fill="#000"/>
<rect x="271" y="342" width="1" height="1" fill="#000"/>
<rect x="221" y="346" width="1" height="1" fill="#000"/>
<rect x="300" y="344" width="2" height="1" fill="#000"/>
<rect x="301" y="346" width="1" height="1" fill="#000"/>
<rect x="228" y="351" width="2" height="1" fill="#000"/>
<rect x="283" y="349" width="2" height="1" fill="#000"/>
<rect x="218" y="356" width="2" height="1" fill="#000"/>
<rect x="256" y="356" width="2" height="1" fill="#000"/>
<rect x="283" y="358" width="2" height="1" fill="#000"/>
<rect x="246" y="360" width="2" height="1" fill="#000"/>
<rect x="230" y="362" width="1" height="1" fill="#000"/>
<rect x="304" y="363" width="1" height="1" fill="#000"/>
<rect x="274" y="367" width="2" height="1" fill="#000"/>
<rect x="265" y="369" width="1" height="1" fill="#000"/>
<rect x="294" y="369" width="2" height="1" fill="#000"/>
<rect x="301" y="369" width="1" height="1" fill="#000"/>
<rect x="256" y="372" width="1" height="1" fill="#000"/>
<rect x="261" y="372" width="1" height="1" fill="#000"/>
<rect x="229" y="373" width="2" height="1" fill="#000"/>
<rect x="228" y="376" width="1" height="1" fill="#000"/>
<rect x="283" y="376" width="2" height="1" fill="#000"/>
<rect x="291" y="378" width="2" height="1" fill="#000"/>
<rect x="304" y="378" width="1" height="1" fill="#000"/>
<rect x="240" y="381" width="1" height="1" fill="#000"/>
<rect x="246" y="381" width="2" height="1" fill="#000"/>
<rect x="279" y="382" width="1" height="1" fill="#000"/>
<rect x="279" y="385" width="1" height="1" fill="#000"/>
<rect x="277" y="387" width="2" height="1" fill="#000"/>
<rect x="283" y="387" width="2" height="1" fill="#000"/>
<rect x="301" y="387" width="1" height="1" fill="#000"/>
<rect x="281" y="390" width="2" height="1" fill="#000"/>
<rect x="297" y="390" width="1" height="1" fill="#000"/>
<rect x="281" y="394" width="1" height="1" fill="#000"/>
<rect x="229" y="396" width="1" height="1" fill="#000"/>
<rect x="234" y="396" width="2" height="1" fill="#000"/>
<rect x="250" y="396" width="2" height="1" fill="#000"/>
<rect x="228" y="399" width="1" height="1" fill="#000"/>
<rect x="254" y="398" width="2" height="1" fill="#000"/>
<rect x="262" y="398" width="2" height="1" fill="#000"/>
<rect x="278" y="398" width="1" height="1" fill="#000"/>
<rect x="237" y="401" width="1" height="1" fill="#000"/>
<rect x="232" y="403" width="1" height="1" fill="#000"/>
<rect x="291" y="401" width="2" height="1" fill="#000"/>
<rect x="306" y="401" width="1" height="1" fill="#000"/>
<rect x="253" y="405" width="2" height="1" fill="#000"/>
<rect x="267" y="408" width="1" height="1" fill="#000"/>
<rect x="230" y="414" width="1" height="1" fill="#000"/>
<rect x="277" y="412" width="1" height="1" fill="#000"/>
<rect x="300" y="412" width="2" height="1" fill="#000"/>
<rect x="253" y="416" width="2" height="1" fill="#000"/>
<rect x="267" y="417" width="1" height="1" fill="#000"/>
<rect x="274" y="416" width="2" height="1" fill="#000"/>
<rect x="288" y="419" width="1" height="1" fill="#000"/>
<rect x="287" y="425" width="1" height="1" fill="#000"/>
<rect x="247" y="432" width="1" height="1" fill="#000"/>
<rect x="271" y="432" width="1" height="1" fill="#000"/>
<rect x="287" y="432" width="2" height="1" fill="#000"/>
<rect x="234" y="434" width="1" height="1" fill="#000"/>
<rect x="252" y="435" width="2" height="1" fill="#000"/>
<rect x="230" y="448" width="2" height="1" fill="#000"/>
<rect x="284" y="453" width="1" height="1" fill="#000"/>
<rect x="384" y="462" width="1" height="1" fill="#000"/>
<rect x="581" y="277" width="1" height="1" fill="#000"/>
<rect x="586" y="277" width="1" height="1" fill="#000"/>
<rect x="581" y="288" width="1" height="1" fill="#000"/>
<rect x="581" y="295" width="1" height="1" fill="#000"/>
<rect x="571" y="297" width="1" height="1" fill="#000"/>
<rect x="581" y="308" width="1" height="1" fill="#000"/>
<rect x="550" y="311" width="2" height="1" fill="#000"/>
<rect x="595" y="322" width="2" height="1" fill="#000"/>
<rect x="581" y="324" width="1" height="1" fill="#000"/>
<rect x="553" y="335" width="1" height="1" fill="#000"/>
<rect x="581" y="338" width="1" height="1" fill="#000"/>
<rect x="581" y="367" width="1" height="1" fill="#000"/>
<rect x="578" y="376" width="1" height="1" fill="#000"/>
</g>

<polyline points="59,407.5 337.5,407.5 337.5,329.5 709,329.5" fill="none" stroke="#ff00ff" stroke-width="1" shape-rendering="crispEdges"/>
<line x1="50" y1="406.5" x2="708.5" y2="275.6" stroke="#ff0000" stroke-width="1.8" shape-rendering="crispEdges"/>

<text x="60.1" y="514.8" text-anchor="middle" class="t">0</text><text x="153.8" y="514.8" text-anchor="middle" class="t">10<tspan dy="-6.8" font-size="12">4</tspan></text><text x="246.8" y="514.8" text-anchor="middle" class="t">2×10<tspan dy="-6.8" font-size="12">4</tspan></text><text x="338.8" y="514.8" text-anchor="middle" class="t">3×10<tspan dy="-6.8" font-size="12">4</tspan></text><text x="431.8" y="514.8" text-anchor="middle" class="t">4×10<tspan dy="-6.8" font-size="12">4</tspan></text><text x="524.8" y="514.8" text-anchor="middle" class="t">5×10<tspan dy="-6.8" font-size="12">4</tspan></text><text x="616.8" y="514.8" text-anchor="middle" class="t">6×10<tspan dy="-6.8" font-size="12">4</tspan></text><text x="709.8" y="514.8" text-anchor="middle" class="t">7×10<tspan dy="-6.8" font-size="12">4</tspan></text><text transform="translate(41.1,47.3) rotate(-90) scale(1.07,1)" text-anchor="middle" class="t tv">200</text><text transform="translate(41.1,137.3) rotate(-90) scale(1.07,1)" text-anchor="middle" class="t tv">150</text><text transform="translate(41.1,227.3) rotate(-90) scale(1.07,1)" text-anchor="middle" class="t tv">100</text><text transform="translate(41.1,317.3) rotate(-90) scale(1.07,1)" text-anchor="middle" class="t tv">50</text><text transform="translate(41.1,407.3) rotate(-90) scale(1.07,1)" text-anchor="middle" class="t tv">0</text><rect x="36" y="501" width="1" height="9" fill="#000" shape-rendering="crispEdges"/><text transform="translate(41.1,490.6) rotate(-90) scale(1.07,1)" text-anchor="middle" class="t tv">50</text><text transform="translate(364.64,543) scale(0.965,1)" class="t" style="font-size:14.6px;letter-spacing:0">P</text><text transform="translate(374.92,543) scale(1.000,1)" class="t" style="font-size:14.6px;letter-spacing:0">i</text><text transform="translate(378.84,543) scale(0.757,1)" class="t" style="font-size:14.6px;letter-spacing:0">x</text><text transform="translate(386.18,543) scale(0.733,1)" class="t" style="font-size:14.6px;letter-spacing:0">1</text><text transform="translate(21,286.97) rotate(-90) scale(0.978,1)" class="t" style="font-size:14.6px;letter-spacing:0">P</text><text transform="translate(21,277.18) rotate(-90) scale(1.000,1)" class="t" style="font-size:14.6px;letter-spacing:0">i</text><text transform="translate(21,273.06) rotate(-90) scale(0.813,1)" class="t" style="font-size:14.6px;letter-spacing:0">x</text><text transform="translate(21,266.68) rotate(-90) scale(1.063,1)" class="t" style="font-size:14.6px;letter-spacing:0">2</text><text x="320.1" y="20.2" class="t" style="font-size:13.6px;letter-spacing:1.2px">20051008</text><text x="396.2" y="20.2" class="t" style="font-size:13.6px;letter-spacing:1.2px">00441</text>
</svg>
</body></html>
